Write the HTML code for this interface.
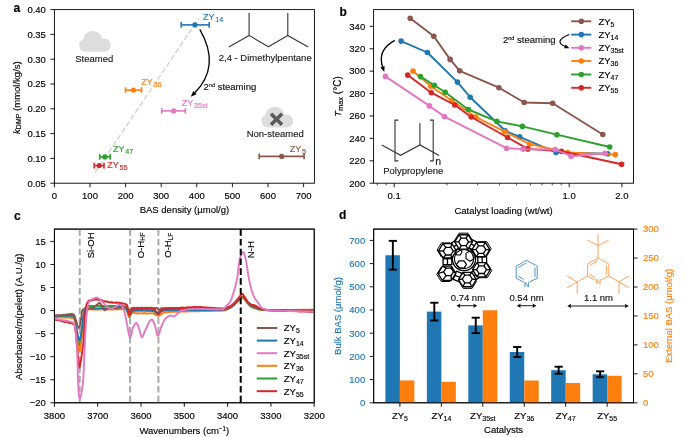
<!DOCTYPE html>
<html><head><meta charset="utf-8"><style>
html,body{margin:0;padding:0;background:#fff;width:685px;height:437px;overflow:hidden}
svg{display:block;will-change:transform}
text{font-family:"Liberation Sans",sans-serif;stroke-width:0.15px;paint-order:stroke}
</style></head><body>
<svg width="685" height="437" viewBox="0 0 685 437">
<rect width="685" height="437" fill="#fff"/>
<line x1="95.1" y1="172.5" x2="198.9" y2="18.3" stroke="#d0d0d0" stroke-width="1.3" stroke-dasharray="5.5,2.5"/>
<path d="M85.7,51.7 A6.5,6.5 0 0 1 83.19,39.21 A9.6,9.6 0 0 1 102.2,39.09 A6.5,6.5 0 1 1 104.4,51.7 Z" fill="#dddddd"/>
<path d="M267.9,127.5 A6.5,6.5 0 0 1 265.39,115.01 A9.6,9.6 0 0 1 284.4,114.89 A6.5,6.5 0 1 1 286.6,127.5 Z" fill="#dddddd"/>
<g stroke="#5a5a5a" stroke-width="3.6" stroke-linecap="butt"><line x1="271.0" y1="113.7" x2="282.0" y2="124.7"/><line x1="282.0" y1="113.7" x2="271.0" y2="124.7"/></g>
<text x="94.3" y="61.6" font-size="9.5" fill="#222" text-anchor="middle" stroke="#222">Steamed</text>
<text x="275.2" y="136.6" font-size="9.5" fill="#222" text-anchor="middle" stroke="#222">Non-steamed</text>
<polyline points="229.2,46.7 249.1,35.4 268.4,46.7 287.8,35.4 307.8,46.7" fill="none" stroke="#333" stroke-width="1.1" stroke-linejoin="round" stroke-linecap="round"/>
<line x1="249.1" y1="35.4" x2="249.1" y2="13" stroke="#333" stroke-width="1.1"/>
<line x1="287.8" y1="35.4" x2="287.8" y2="13" stroke="#333" stroke-width="1.1"/>
<text x="265.2" y="61.3" font-size="9.5" fill="#222" text-anchor="middle" stroke="#222">2,4 - Dimethylpentane</text>
<text x="203.6" y="90.3" font-size="9.5" fill="#111" stroke="#111">2<tspan font-size="5.5" dy="-3.2">nd</tspan><tspan dy="3.2"> steaming</tspan></text>
<path d="M199.8,29.3 Q221.4,66.6 194.12,93.43" fill="none" stroke="#000" stroke-width="1.3"/>
<path d="M190.7,96.8 L193.36,90.95 L196.59,94.23 Z" fill="#000"/>
<line x1="181.2" y1="24.9" x2="209.2" y2="24.9" stroke="#1f77b4" stroke-width="1.6"/>
<line x1="181.2" y1="22.1" x2="181.2" y2="27.7" stroke="#1f77b4" stroke-width="1.6"/>
<line x1="209.2" y1="22.1" x2="209.2" y2="27.7" stroke="#1f77b4" stroke-width="1.6"/>
<circle cx="194.9" cy="24.9" r="2.6" fill="#1f77b4"/>
<line x1="125.5" y1="90.1" x2="141.5" y2="90.1" stroke="#ff7f0e" stroke-width="1.6"/>
<line x1="125.5" y1="87.3" x2="125.5" y2="92.9" stroke="#ff7f0e" stroke-width="1.6"/>
<line x1="141.5" y1="87.3" x2="141.5" y2="92.9" stroke="#ff7f0e" stroke-width="1.6"/>
<circle cx="133.4" cy="90.1" r="2.6" fill="#ff7f0e"/>
<line x1="161.7" y1="110.9" x2="185.4" y2="110.9" stroke="#e377c2" stroke-width="1.6"/>
<line x1="161.7" y1="108.1" x2="161.7" y2="113.7" stroke="#e377c2" stroke-width="1.6"/>
<line x1="185.4" y1="108.1" x2="185.4" y2="113.7" stroke="#e377c2" stroke-width="1.6"/>
<circle cx="173.7" cy="110.9" r="2.6" fill="#e377c2"/>
<line x1="99.7" y1="156.9" x2="110.2" y2="156.9" stroke="#2ca02c" stroke-width="1.6"/>
<line x1="99.7" y1="154.1" x2="99.7" y2="159.7" stroke="#2ca02c" stroke-width="1.6"/>
<line x1="110.2" y1="154.1" x2="110.2" y2="159.7" stroke="#2ca02c" stroke-width="1.6"/>
<circle cx="104.9" cy="156.9" r="2.6" fill="#2ca02c"/>
<line x1="94.2" y1="165.6" x2="104" y2="165.6" stroke="#d62728" stroke-width="1.6"/>
<line x1="94.2" y1="162.8" x2="94.2" y2="168.4" stroke="#d62728" stroke-width="1.6"/>
<line x1="104" y1="162.8" x2="104" y2="168.4" stroke="#d62728" stroke-width="1.6"/>
<circle cx="99.2" cy="165.6" r="2.6" fill="#d62728"/>
<line x1="259.2" y1="156.4" x2="304.1" y2="156.4" stroke="#8c564b" stroke-width="1.6"/>
<line x1="259.2" y1="153.6" x2="259.2" y2="159.2" stroke="#8c564b" stroke-width="1.6"/>
<line x1="304.1" y1="153.6" x2="304.1" y2="159.2" stroke="#8c564b" stroke-width="1.6"/>
<circle cx="281.7" cy="156.4" r="2.6" fill="#8c564b"/>
<text x="203.1" y="19.7" font-size="9.0" fill="#1f77b4" stroke="#1f77b4">ZY<tspan font-size="7.2" dx="0.7" dy="2.0">14</tspan></text>
<text x="141.2" y="84.9" font-size="9.0" fill="#ff7f0e" stroke="#ff7f0e">ZY<tspan font-size="7.2" dx="0.7" dy="2.0">36</tspan></text>
<text x="181.8" y="106.3" font-size="9.0" fill="#e377c2" stroke="#e377c2">ZY<tspan font-size="7.2" dx="0.7" dy="2.0">35st</tspan></text>
<text x="113.1" y="151.8" font-size="9.0" fill="#2ca02c" stroke="#2ca02c">ZY<tspan font-size="7.2" dx="0.7" dy="2.0">47</tspan></text>
<text x="107.3" y="168" font-size="9.0" fill="#d62728" stroke="#d62728">ZY<tspan font-size="7.2" dx="0.7" dy="2.0">55</tspan></text>
<text x="289.7" y="152.1" font-size="9.0" fill="#8c564b" stroke="#8c564b">ZY<tspan font-size="7.2" dx="0.7" dy="2.0">5</tspan></text>
<rect x="54.4" y="9.6" width="260" height="173.6" fill="none" stroke="#000" stroke-width="0.9"/>
<line x1="54.4" y1="183.2" x2="54.4" y2="187.2" stroke="#000" stroke-width="0.9"/>
<text x="54.4" y="199.4" font-size="9.5" fill="#000" text-anchor="middle" stroke="#000">0</text>
<line x1="90" y1="183.2" x2="90" y2="187.2" stroke="#000" stroke-width="0.9"/>
<text x="90" y="199.4" font-size="9.5" fill="#000" text-anchor="middle" stroke="#000">100</text>
<line x1="125.6" y1="183.2" x2="125.6" y2="187.2" stroke="#000" stroke-width="0.9"/>
<text x="125.6" y="199.4" font-size="9.5" fill="#000" text-anchor="middle" stroke="#000">200</text>
<line x1="161.2" y1="183.2" x2="161.2" y2="187.2" stroke="#000" stroke-width="0.9"/>
<text x="161.2" y="199.4" font-size="9.5" fill="#000" text-anchor="middle" stroke="#000">300</text>
<line x1="196.8" y1="183.2" x2="196.8" y2="187.2" stroke="#000" stroke-width="0.9"/>
<text x="196.8" y="199.4" font-size="9.5" fill="#000" text-anchor="middle" stroke="#000">400</text>
<line x1="232.4" y1="183.2" x2="232.4" y2="187.2" stroke="#000" stroke-width="0.9"/>
<text x="232.4" y="199.4" font-size="9.5" fill="#000" text-anchor="middle" stroke="#000">500</text>
<line x1="268" y1="183.2" x2="268" y2="187.2" stroke="#000" stroke-width="0.9"/>
<text x="268" y="199.4" font-size="9.5" fill="#000" text-anchor="middle" stroke="#000">600</text>
<line x1="303.6" y1="183.2" x2="303.6" y2="187.2" stroke="#000" stroke-width="0.9"/>
<text x="303.6" y="199.4" font-size="9.5" fill="#000" text-anchor="middle" stroke="#000">700</text>
<line x1="50.4" y1="183.2" x2="54.4" y2="183.2" stroke="#000" stroke-width="0.9"/>
<text x="45.9" y="186.5" font-size="9.5" fill="#000" text-anchor="end" stroke="#000">0.05</text>
<line x1="50.4" y1="158.4" x2="54.4" y2="158.4" stroke="#000" stroke-width="0.9"/>
<text x="45.9" y="161.7" font-size="9.5" fill="#000" text-anchor="end" stroke="#000">0.10</text>
<line x1="50.4" y1="133.6" x2="54.4" y2="133.6" stroke="#000" stroke-width="0.9"/>
<text x="45.9" y="136.9" font-size="9.5" fill="#000" text-anchor="end" stroke="#000">0.15</text>
<line x1="50.4" y1="108.8" x2="54.4" y2="108.8" stroke="#000" stroke-width="0.9"/>
<text x="45.9" y="112.1" font-size="9.5" fill="#000" text-anchor="end" stroke="#000">0.20</text>
<line x1="50.4" y1="84" x2="54.4" y2="84" stroke="#000" stroke-width="0.9"/>
<text x="45.9" y="87.3" font-size="9.5" fill="#000" text-anchor="end" stroke="#000">0.25</text>
<line x1="50.4" y1="59.2" x2="54.4" y2="59.2" stroke="#000" stroke-width="0.9"/>
<text x="45.9" y="62.5" font-size="9.5" fill="#000" text-anchor="end" stroke="#000">0.30</text>
<line x1="50.4" y1="34.4" x2="54.4" y2="34.4" stroke="#000" stroke-width="0.9"/>
<text x="45.9" y="37.7" font-size="9.5" fill="#000" text-anchor="end" stroke="#000">0.35</text>
<line x1="50.4" y1="9.6" x2="54.4" y2="9.6" stroke="#000" stroke-width="0.9"/>
<text x="45.9" y="12.9" font-size="9.5" fill="#000" text-anchor="end" stroke="#000">0.40</text>
<text x="184.4" y="213.4" font-size="9.5" fill="#000" text-anchor="middle" stroke="#000">BAS density (µmol/g)</text>
<text x="0" y="0" transform="translate(19.6,97.6) rotate(-90)" font-size="9.5" fill="#000" text-anchor="middle" stroke="#000"><tspan font-style="italic">k</tspan><tspan font-size="7.0" dy="1.6">DMP</tspan><tspan dy="-1.6"> (mmol/kg/s)</tspan></text>
<text x="13.6" y="12" font-size="12" fill="#000" stroke="#000" font-weight="bold">a</text>
<polyline points="410.2,18.2 433.8,36.2 450.1,59.4 459.7,70.8 498.9,87.7 524.2,102.5 552.6,103.2 602.8,134.5" fill="none" stroke="#8c564b" stroke-width="1.9" stroke-linejoin="round" stroke-linecap="round"/>
<circle cx="410.2" cy="18.2" r="2.8" fill="#8c564b"/>
<circle cx="433.8" cy="36.2" r="2.8" fill="#8c564b"/>
<circle cx="450.1" cy="59.4" r="2.8" fill="#8c564b"/>
<circle cx="459.7" cy="70.8" r="2.8" fill="#8c564b"/>
<circle cx="498.9" cy="87.7" r="2.8" fill="#8c564b"/>
<circle cx="524.2" cy="102.5" r="2.8" fill="#8c564b"/>
<circle cx="552.6" cy="103.2" r="2.8" fill="#8c564b"/>
<circle cx="602.8" cy="134.5" r="2.8" fill="#8c564b"/>
<polyline points="401.1,41.1 427.4,52.5 457.4,82.1 470.2,97.2 505.2,130.8 519.7,136.9 556,152.4 607.8,153.7" fill="none" stroke="#1f77b4" stroke-width="1.9" stroke-linejoin="round" stroke-linecap="round"/>
<circle cx="401.1" cy="41.1" r="2.8" fill="#1f77b4"/>
<circle cx="427.4" cy="52.5" r="2.8" fill="#1f77b4"/>
<circle cx="457.4" cy="82.1" r="2.8" fill="#1f77b4"/>
<circle cx="470.2" cy="97.2" r="2.8" fill="#1f77b4"/>
<circle cx="505.2" cy="130.8" r="2.8" fill="#1f77b4"/>
<circle cx="519.7" cy="136.9" r="2.8" fill="#1f77b4"/>
<circle cx="556" cy="152.4" r="2.8" fill="#1f77b4"/>
<circle cx="607.8" cy="153.7" r="2.8" fill="#1f77b4"/>
<polyline points="413,71.1 430.9,86.2 452,100.7 475.8,117 504.8,131.7 529.6,144.1 567.8,152.5 615.3,154.6" fill="none" stroke="#ff7f0e" stroke-width="1.9" stroke-linejoin="round" stroke-linecap="round"/>
<circle cx="413" cy="71.1" r="2.8" fill="#ff7f0e"/>
<circle cx="430.9" cy="86.2" r="2.8" fill="#ff7f0e"/>
<circle cx="452" cy="100.7" r="2.8" fill="#ff7f0e"/>
<circle cx="475.8" cy="117" r="2.8" fill="#ff7f0e"/>
<circle cx="504.8" cy="131.7" r="2.8" fill="#ff7f0e"/>
<circle cx="529.6" cy="144.1" r="2.8" fill="#ff7f0e"/>
<circle cx="567.8" cy="152.5" r="2.8" fill="#ff7f0e"/>
<circle cx="615.3" cy="154.6" r="2.8" fill="#ff7f0e"/>
<polyline points="420.5,76.6 434.3,85.2 445.2,92.2 468.3,109.5 496.9,121.4 522.4,126.4 556.9,134.7 609.7,147" fill="none" stroke="#2ca02c" stroke-width="1.9" stroke-linejoin="round" stroke-linecap="round"/>
<circle cx="420.5" cy="76.6" r="2.8" fill="#2ca02c"/>
<circle cx="434.3" cy="85.2" r="2.8" fill="#2ca02c"/>
<circle cx="445.2" cy="92.2" r="2.8" fill="#2ca02c"/>
<circle cx="468.3" cy="109.5" r="2.8" fill="#2ca02c"/>
<circle cx="496.9" cy="121.4" r="2.8" fill="#2ca02c"/>
<circle cx="522.4" cy="126.4" r="2.8" fill="#2ca02c"/>
<circle cx="556.9" cy="134.7" r="2.8" fill="#2ca02c"/>
<circle cx="609.7" cy="147" r="2.8" fill="#2ca02c"/>
<polyline points="407.7,75.1 431.3,92.7 454.8,105 471.2,117 507.6,137.5 527.9,148.9 561.4,151.2 621.6,164.3" fill="none" stroke="#d62728" stroke-width="1.9" stroke-linejoin="round" stroke-linecap="round"/>
<circle cx="407.7" cy="75.1" r="2.8" fill="#d62728"/>
<circle cx="431.3" cy="92.7" r="2.8" fill="#d62728"/>
<circle cx="454.8" cy="105" r="2.8" fill="#d62728"/>
<circle cx="471.2" cy="117" r="2.8" fill="#d62728"/>
<circle cx="507.6" cy="137.5" r="2.8" fill="#d62728"/>
<circle cx="527.9" cy="148.9" r="2.8" fill="#d62728"/>
<circle cx="561.4" cy="151.2" r="2.8" fill="#d62728"/>
<circle cx="621.6" cy="164.3" r="2.8" fill="#d62728"/>
<polyline points="385.4,76.4 429.4,105.9 444.4,116.6 506.5,148.2 523,149.1 555.3,149.5 571.1,156.2 605,153.3" fill="none" stroke="#e377c2" stroke-width="1.9" stroke-linejoin="round" stroke-linecap="round"/>
<circle cx="385.4" cy="76.4" r="2.8" fill="#e377c2"/>
<circle cx="429.4" cy="105.9" r="2.8" fill="#e377c2"/>
<circle cx="444.4" cy="116.6" r="2.8" fill="#e377c2"/>
<circle cx="506.5" cy="148.2" r="2.8" fill="#e377c2"/>
<circle cx="523" cy="149.1" r="2.8" fill="#e377c2"/>
<circle cx="555.3" cy="149.5" r="2.8" fill="#e377c2"/>
<circle cx="571.1" cy="156.2" r="2.8" fill="#e377c2"/>
<circle cx="605" cy="153.3" r="2.8" fill="#e377c2"/>
<g fill="none" stroke="#333" stroke-width="1.1"><polyline points="381.7,144.9 400.6,155.3 419.9,144.9 439.1,155.6"/><line x1="419.9" y1="144.9" x2="419.9" y2="123.2"/><polyline points="398.3,120.1 395.0,120.1 395.0,160.9 398.3,160.9"/><polyline points="430.0,120.1 433.2,120.1 433.2,160.9 430.0,160.9"/></g>
<text x="435.3" y="165.4" font-size="10.5" fill="#222" stroke="#222">n</text>
<text x="413.3" y="174" font-size="9.5" fill="#222" text-anchor="middle" stroke="#222">Polypropylene</text>
<path d="M394.8,40.4 Q376.6,50 382.85,67.85" fill="none" stroke="#000" stroke-width="1.3"/>
<path d="M384.3,72 L380.41,67.54 L384.56,66.08 Z" fill="#000"/>
<line x1="571.2" y1="21.3" x2="591.3" y2="21.3" stroke="#8c564b" stroke-width="1.9"/>
<circle cx="581.3" cy="21.3" r="2.8" fill="#8c564b"/>
<text x="598.4" y="24.6" font-size="9.5" fill="#000" stroke="#000">ZY<tspan font-size="7.0" dy="2.1">5</tspan></text>
<line x1="571.2" y1="34.6" x2="591.3" y2="34.6" stroke="#1f77b4" stroke-width="1.9"/>
<circle cx="581.3" cy="34.6" r="2.8" fill="#1f77b4"/>
<text x="598.4" y="37.9" font-size="9.5" fill="#000" stroke="#000">ZY<tspan font-size="7.0" dy="2.1">14</tspan></text>
<line x1="571.2" y1="47.8" x2="591.3" y2="47.8" stroke="#e377c2" stroke-width="1.9"/>
<circle cx="581.3" cy="47.8" r="2.8" fill="#e377c2"/>
<text x="598.4" y="51.1" font-size="9.5" fill="#000" stroke="#000">ZY<tspan font-size="7.0" dy="2.1">35st</tspan></text>
<line x1="571.2" y1="61" x2="591.3" y2="61" stroke="#ff7f0e" stroke-width="1.9"/>
<circle cx="581.3" cy="61" r="2.8" fill="#ff7f0e"/>
<text x="598.4" y="64.3" font-size="9.5" fill="#000" stroke="#000">ZY<tspan font-size="7.0" dy="2.1">36</tspan></text>
<line x1="571.2" y1="74.5" x2="591.3" y2="74.5" stroke="#2ca02c" stroke-width="1.9"/>
<circle cx="581.3" cy="74.5" r="2.8" fill="#2ca02c"/>
<text x="598.4" y="77.8" font-size="9.5" fill="#000" stroke="#000">ZY<tspan font-size="7.0" dy="2.1">47</tspan></text>
<line x1="571.2" y1="87.8" x2="591.3" y2="87.8" stroke="#d62728" stroke-width="1.9"/>
<circle cx="581.3" cy="87.8" r="2.8" fill="#d62728"/>
<text x="598.4" y="91.1" font-size="9.5" fill="#000" stroke="#000">ZY<tspan font-size="7.0" dy="2.1">55</tspan></text>
<text x="503" y="43.2" font-size="9.5" fill="#111" stroke="#111">2<tspan font-size="5.5" dy="-3.2">nd</tspan><tspan dy="3.2"> steaming</tspan></text>
<path d="M569.3,34.5 Q552.5,41.35 565.8,46.79" fill="none" stroke="#000" stroke-width="1.2"/>
<path d="M569.5,48.3 L564.11,48.26 L565.63,44.56 Z" fill="#000"/>
<rect x="373.6" y="9.6" width="259.9" height="173.6" fill="none" stroke="#000" stroke-width="0.9"/>
<line x1="369.6" y1="183.2" x2="373.6" y2="183.2" stroke="#000" stroke-width="0.9"/>
<text x="365.2" y="186.5" font-size="9.5" fill="#000" text-anchor="end" stroke="#000">200</text>
<line x1="369.6" y1="160.79" x2="373.6" y2="160.79" stroke="#000" stroke-width="0.9"/>
<text x="365.2" y="164.09" font-size="9.5" fill="#000" text-anchor="end" stroke="#000">220</text>
<line x1="369.6" y1="138.37" x2="373.6" y2="138.37" stroke="#000" stroke-width="0.9"/>
<text x="365.2" y="141.67" font-size="9.5" fill="#000" text-anchor="end" stroke="#000">240</text>
<line x1="369.6" y1="115.96" x2="373.6" y2="115.96" stroke="#000" stroke-width="0.9"/>
<text x="365.2" y="119.26" font-size="9.5" fill="#000" text-anchor="end" stroke="#000">260</text>
<line x1="369.6" y1="93.54" x2="373.6" y2="93.54" stroke="#000" stroke-width="0.9"/>
<text x="365.2" y="96.84" font-size="9.5" fill="#000" text-anchor="end" stroke="#000">280</text>
<line x1="369.6" y1="71.13" x2="373.6" y2="71.13" stroke="#000" stroke-width="0.9"/>
<text x="365.2" y="74.43" font-size="9.5" fill="#000" text-anchor="end" stroke="#000">300</text>
<line x1="369.6" y1="48.72" x2="373.6" y2="48.72" stroke="#000" stroke-width="0.9"/>
<text x="365.2" y="52.02" font-size="9.5" fill="#000" text-anchor="end" stroke="#000">320</text>
<line x1="369.6" y1="26.3" x2="373.6" y2="26.3" stroke="#000" stroke-width="0.9"/>
<text x="365.2" y="29.6" font-size="9.5" fill="#000" text-anchor="end" stroke="#000">340</text>
<line x1="394.2" y1="183.2" x2="394.2" y2="187.2" stroke="#000" stroke-width="0.9"/>
<text x="394.2" y="199.4" font-size="9.5" fill="#000" text-anchor="middle" stroke="#000">0.1</text>
<line x1="569.2" y1="183.2" x2="569.2" y2="187.2" stroke="#000" stroke-width="0.9"/>
<text x="569.2" y="199.4" font-size="9.5" fill="#000" text-anchor="middle" stroke="#000">1.0</text>
<line x1="621.88" y1="183.2" x2="621.88" y2="187.2" stroke="#000" stroke-width="0.9"/>
<text x="621.88" y="199.4" font-size="9.5" fill="#000" text-anchor="middle" stroke="#000">2.0</text>
<line x1="377.24" y1="183.2" x2="377.24" y2="185.4" stroke="#000" stroke-width="0.7"/>
<line x1="386.19" y1="183.2" x2="386.19" y2="185.4" stroke="#000" stroke-width="0.7"/>
<line x1="446.88" y1="183.2" x2="446.88" y2="185.4" stroke="#000" stroke-width="0.7"/>
<line x1="477.7" y1="183.2" x2="477.7" y2="185.4" stroke="#000" stroke-width="0.7"/>
<line x1="499.56" y1="183.2" x2="499.56" y2="185.4" stroke="#000" stroke-width="0.7"/>
<line x1="516.52" y1="183.2" x2="516.52" y2="185.4" stroke="#000" stroke-width="0.7"/>
<line x1="530.38" y1="183.2" x2="530.38" y2="185.4" stroke="#000" stroke-width="0.7"/>
<line x1="542.09" y1="183.2" x2="542.09" y2="185.4" stroke="#000" stroke-width="0.7"/>
<line x1="552.24" y1="183.2" x2="552.24" y2="185.4" stroke="#000" stroke-width="0.7"/>
<line x1="561.19" y1="183.2" x2="561.19" y2="185.4" stroke="#000" stroke-width="0.7"/>
<text x="503.5" y="213.5" font-size="9.5" fill="#000" text-anchor="middle" stroke="#000">Catalyst loading (wt/wt)</text>
<text x="0" y="0" transform="translate(340.6,96.5) rotate(-90)" font-size="9.5" fill="#000" text-anchor="middle" stroke="#000"><tspan font-style="italic">T</tspan><tspan font-size="7.4" dy="2.0">max</tspan><tspan dy="-2.0" font-size="10"> (°C)</tspan></text>
<text x="339.4" y="15.9" font-size="12" fill="#000" stroke="#000" font-weight="bold">b</text>
<text x="13.9" y="219.5" font-size="12" fill="#000" stroke="#000" font-weight="bold">c</text>
<rect x="54.4" y="229.1" width="259.8" height="173.7" fill="none" stroke="#000" stroke-width="0.9"/>
<line x1="54.4" y1="402.8" x2="54.4" y2="406.8" stroke="#000" stroke-width="0.9"/>
<text x="54.4" y="419" font-size="9.5" fill="#000" text-anchor="middle" stroke="#000">3800</text>
<line x1="97.7" y1="402.8" x2="97.7" y2="406.8" stroke="#000" stroke-width="0.9"/>
<text x="97.7" y="419" font-size="9.5" fill="#000" text-anchor="middle" stroke="#000">3700</text>
<line x1="141" y1="402.8" x2="141" y2="406.8" stroke="#000" stroke-width="0.9"/>
<text x="141" y="419" font-size="9.5" fill="#000" text-anchor="middle" stroke="#000">3600</text>
<line x1="184.3" y1="402.8" x2="184.3" y2="406.8" stroke="#000" stroke-width="0.9"/>
<text x="184.3" y="419" font-size="9.5" fill="#000" text-anchor="middle" stroke="#000">3500</text>
<line x1="227.6" y1="402.8" x2="227.6" y2="406.8" stroke="#000" stroke-width="0.9"/>
<text x="227.6" y="419" font-size="9.5" fill="#000" text-anchor="middle" stroke="#000">3400</text>
<line x1="270.9" y1="402.8" x2="270.9" y2="406.8" stroke="#000" stroke-width="0.9"/>
<text x="270.9" y="419" font-size="9.5" fill="#000" text-anchor="middle" stroke="#000">3300</text>
<line x1="314.2" y1="402.8" x2="314.2" y2="406.8" stroke="#000" stroke-width="0.9"/>
<text x="314.2" y="419" font-size="9.5" fill="#000" text-anchor="middle" stroke="#000">3200</text>
<line x1="50.4" y1="402.8" x2="54.4" y2="402.8" stroke="#000" stroke-width="0.9"/>
<text x="45.9" y="406.1" font-size="9.5" fill="#000" text-anchor="end" stroke="#000">−20</text>
<line x1="50.4" y1="379.75" x2="54.4" y2="379.75" stroke="#000" stroke-width="0.9"/>
<text x="45.9" y="383.05" font-size="9.5" fill="#000" text-anchor="end" stroke="#000">−15</text>
<line x1="50.4" y1="356.69" x2="54.4" y2="356.69" stroke="#000" stroke-width="0.9"/>
<text x="45.9" y="359.99" font-size="9.5" fill="#000" text-anchor="end" stroke="#000">−10</text>
<line x1="50.4" y1="333.63" x2="54.4" y2="333.63" stroke="#000" stroke-width="0.9"/>
<text x="45.9" y="336.94" font-size="9.5" fill="#000" text-anchor="end" stroke="#000">−5</text>
<line x1="50.4" y1="310.58" x2="54.4" y2="310.58" stroke="#000" stroke-width="0.9"/>
<text x="45.9" y="313.88" font-size="9.5" fill="#000" text-anchor="end" stroke="#000">0</text>
<line x1="50.4" y1="287.53" x2="54.4" y2="287.53" stroke="#000" stroke-width="0.9"/>
<text x="45.9" y="290.83" font-size="9.5" fill="#000" text-anchor="end" stroke="#000">5</text>
<line x1="50.4" y1="264.47" x2="54.4" y2="264.47" stroke="#000" stroke-width="0.9"/>
<text x="45.9" y="267.77" font-size="9.5" fill="#000" text-anchor="end" stroke="#000">10</text>
<line x1="50.4" y1="241.42" x2="54.4" y2="241.42" stroke="#000" stroke-width="0.9"/>
<text x="45.9" y="244.72" font-size="9.5" fill="#000" text-anchor="end" stroke="#000">15</text>
<text x="184.3" y="434.4" font-size="9.5" fill="#000" text-anchor="middle" stroke="#000">Wavenumbers (cm<tspan font-size="6.3" dy="-3.2">−1</tspan><tspan dy="3.2">)</tspan></text>
<text x="0" y="0" transform="translate(21.6,316.8) rotate(-90)" font-size="9.5" fill="#000" text-anchor="middle" stroke="#000">Absorbance/<tspan font-style="italic">m</tspan>(pelett) (A.U./g)</text>
<text x="339.1" y="219.4" font-size="12" fill="#000" stroke="#000" font-weight="bold">d</text>
<rect x="373.7" y="229.1" width="259.8" height="173.7" fill="none" stroke="#000" stroke-width="0.9"/>
<line x1="79.73" y1="229.1" x2="79.73" y2="402.8" stroke="#a9a9a9" stroke-width="2.0" stroke-dasharray="6.6,3.2"/>
<line x1="130.09" y1="229.1" x2="130.09" y2="402.8" stroke="#a9a9a9" stroke-width="2.0" stroke-dasharray="6.6,3.2"/>
<line x1="158.41" y1="229.1" x2="158.41" y2="402.8" stroke="#a9a9a9" stroke-width="2.0" stroke-dasharray="6.6,3.2"/>
<clipPath id="cc"><rect x="54.4" y="229.1" width="259.8" height="173.70000000000002"/></clipPath>
<g clip-path="url(#cc)">
<polyline points="54.4,316.5 54.9,316.6 55.4,316.56 55.9,316.64 56.4,316.66 56.9,316.5 57.4,316.5 57.9,316.76 58.4,316.6 58.9,316.6 59.4,316.84 59.9,316.7 60.4,316.82 60.9,316.73 61.4,316.79 61.9,316.66 62.4,316.82 62.9,316.91 63.4,316.82 63.9,316.91 64.4,316.9 64.9,316.74 65.4,316.96 65.9,316.93 66.4,316.86 66.9,316.8 67.4,317.07 67.9,316.98 68.4,317.08 68.9,317.16 69.4,317.14 69.9,317.24 70.4,317.13 70.9,317.3 71.4,317.25 71.9,317.46 72.4,317.51 72.9,317.36 73.4,317.57 73.9,318.17 74.4,319.31 74.9,320.36 75.4,322.21 75.9,326.18 76.4,330.73 76.9,334.24 77.4,337.67 77.9,340.63 78.4,342.61 78.9,344.33 79.4,345.18 79.9,344.7 80.4,342.69 80.9,340.26 81.4,336.83 81.9,332.44 82.4,328.11 82.9,323.4 83.4,318.14 83.9,313.92 84.4,310.75 84.9,308.25 85.4,307.65 85.9,307.13 86.4,306.7 86.9,306.37 87.4,306.43 87.9,306.37 88.4,306.06 88.9,306.25 89.4,306.11 89.9,306.01 90.4,306.03 90.9,306.16 91.4,306.17 91.9,305.91 92.4,306.07 92.9,305.88 93.4,306.07 93.9,305.95 94.4,306.11 94.9,306.13 95.4,305.98 95.9,306.12 96.4,305.92 96.9,305.84 97.4,306 97.9,305.83 98.4,305.88 98.9,305.94 99.4,306 99.9,305.87 100.4,305.83 100.9,306.08 101.4,305.91 101.9,306.11 102.4,306.09 102.9,305.93 103.4,305.96 103.9,305.98 104.4,306.01 104.9,306 105.4,305.99 105.9,306.01 106.4,306.1 106.9,305.97 107.4,305.95 107.9,306.04 108.4,305.89 108.9,305.91 109.4,306.11 109.9,305.98 110.4,305.98 110.9,305.82 111.4,305.94 111.9,305.99 112.4,305.83 112.9,306 113.4,306.01 113.9,305.84 114.4,306.01 114.9,305.96 115.4,306.02 115.9,305.92 116.4,306.03 116.9,306.04 117.4,305.83 117.9,305.84 118.4,306.02 118.9,306.11 119.4,305.89 119.9,305.96 120.4,306.02 120.9,305.97 121.4,306.03 121.9,306.07 122.4,306.16 122.9,306.31 123.4,306.32 123.9,306.45 124.4,306.69 124.9,306.6 125.4,306.91 125.9,307.51 126.4,308.63 126.9,310.29 127.4,312.36 127.9,314.04 128.4,315.59 128.9,316.72 129.4,317.08 129.9,316.28 130.4,315.07 130.9,313.52 131.4,312.16 131.9,310.93 132.4,310.69 132.9,310.48 133.4,310.53 133.9,310.63 134.4,310.7 134.9,310.57 135.4,310.5 135.9,310.47 136.4,310.59 136.9,310.49 137.4,310.67 137.9,310.68 138.4,310.49 138.9,310.51 139.4,310.67 139.9,310.62 140.4,310.67 140.9,310.53 141.4,310.47 141.9,310.52 142.4,310.67 142.9,310.51 143.4,310.53 143.9,310.56 144.4,310.56 144.9,310.55 145.4,310.71 145.9,310.48 146.4,310.43 146.9,310.71 147.4,310.69 147.9,310.73 148.4,310.56 148.9,310.72 149.4,310.71 149.9,310.5 150.4,310.7 150.9,310.81 151.4,310.87 151.9,310.97 152.4,311.06 152.9,311.26 153.4,311.42 153.9,311.57 154.4,311.92 154.9,312.03 155.4,312.37 155.9,312.31 156.4,312.72 156.9,312.78 157.4,312.94 157.9,312.99 158.4,313 158.9,312.85 159.4,312.54 159.9,312.56 160.4,312.14 160.9,311.9 161.4,311.7 161.9,311.34 162.4,311.01 162.9,310.88 163.4,310.53 163.9,310.26 164.4,310.1 164.9,310.22 165.4,310.08 165.9,310.15 166.4,310 166.9,309.93 167.4,310 167.9,310.07 168.4,309.85 168.9,310.02 169.4,310.04 169.9,309.99 170.4,309.97 170.9,309.71 171.4,309.88 171.9,309.94 172.4,309.68 172.9,309.73 173.4,309.72 173.9,309.78 174.4,309.74 174.9,309.74 175.4,309.83 175.9,309.58 176.4,309.59 176.9,309.6 177.4,309.59 177.9,309.57 178.4,309.84 178.9,309.79 179.4,309.56 179.9,309.68 180.4,309.62 180.9,309.61 181.4,309.62 181.9,309.71 182.4,309.69 182.9,309.62 183.4,309.57 183.9,309.61 184.4,309.54 184.9,309.67 185.4,309.72 185.9,309.62 186.4,309.53 186.9,309.56 187.4,309.62 187.9,309.69 188.4,309.74 188.9,309.62 189.4,309.75 189.9,309.69 190.4,309.64 190.9,309.62 191.4,309.66 191.9,309.72 192.4,309.63 192.9,309.72 193.4,309.65 193.9,309.58 194.4,309.67 194.9,309.72 195.4,309.53 195.9,309.64 196.4,309.64 196.9,309.77 197.4,309.79 197.9,309.62 198.4,309.78 198.9,309.75 199.4,309.59 199.9,309.65 200.4,309.61 200.9,309.7 201.4,309.68 201.9,309.71 202.4,309.7 202.9,309.68 203.4,309.69 203.9,309.67 204.4,309.6 204.9,309.67 205.4,309.59 205.9,309.61 206.4,309.69 206.9,309.6 207.4,309.6 207.9,309.6 208.4,309.71 208.9,309.61 209.4,309.59 209.9,309.7 210.4,309.61 210.9,309.7 211.4,309.68 211.9,309.7 212.4,309.72 212.9,309.67 213.4,309.7 213.9,309.6 214.4,309.69 214.9,309.66 215.4,309.69 215.9,309.6 216.4,309.69 216.9,309.72 217.4,309.6 217.9,309.63 218.4,309.67 218.9,309.7 219.4,309.62 219.9,309.61 220.4,309.62 220.9,309.67 221.4,309.69 221.9,309.64 222.4,309.64 222.9,309.64 223.4,309.64 223.9,309.62 224.4,309.52 224.9,309.5 225.4,309.46 225.9,309.25 226.4,309.15 226.9,308.91 227.4,308.8 227.9,308.62 228.4,308.41 228.9,308.18 229.4,307.97 229.9,307.77 230.4,307.55 230.9,307.15 231.4,306.79 231.9,306.5 232.4,306.12 232.9,305.64 233.4,305.19 233.9,304.79 234.4,304.27 234.9,303.79 235.4,303.25 235.9,302.75 236.4,302.15 236.9,301.57 237.4,301.08 237.9,300.57 238.4,299.97 238.9,299.52 239.4,298.95 239.9,298.49 240.4,297.97 240.9,297.52 241.4,297.2 241.9,296.93 242.4,296.79 242.9,296.75 243.4,297.12 243.9,297.86 244.4,298.7 244.9,299.52 245.4,300.11 245.9,300.92 246.4,301.56 246.9,302.27 247.4,302.93 247.9,303.61 248.4,304.19 248.9,304.69 249.4,305.2 249.9,305.73 250.4,306.21 250.9,306.54 251.4,306.91 251.9,307.21 252.4,307.38 252.9,307.55 253.4,307.74 253.9,307.98 254.4,308.14 254.9,308.34 255.4,308.49 255.9,308.57 256.4,308.73 256.9,308.9 257.4,309.04 257.9,309.25 258.4,309.4 258.9,309.52 259.4,309.53 259.9,309.69 260.4,309.67 260.9,309.74 261.4,309.83 261.9,309.79 262.4,309.84 262.9,309.98 263.4,309.95 263.9,310 264.4,310.07 264.9,310.12 265.4,310.07 265.9,310.14 266.4,310.18 266.9,310.22 267.4,310.21 267.9,310.28 268.4,310.35 268.9,310.29 269.4,310.33 269.9,310.28 270.4,310.31 270.9,310.37 271.4,310.3 271.9,310.41 272.4,310.42 272.9,310.32 273.4,310.44 273.9,310.37 274.4,310.42 274.9,310.43 275.4,310.37 275.9,310.43 276.4,310.43 276.9,310.45 277.4,310.38 277.9,310.45 278.4,310.49 278.9,310.45 279.4,310.44 279.9,310.38 280.4,310.44 280.9,310.42 281.4,310.47 281.9,310.47 282.4,310.46 282.9,310.41 283.4,310.48 283.9,310.48 284.4,310.42 284.9,310.52 285.4,310.49 285.9,310.42 286.4,310.53 286.9,310.43 287.4,310.46 287.9,310.51 288.4,310.5 288.9,310.49 289.4,310.51 289.9,310.48 290.4,310.47 290.9,310.45 291.4,310.44 291.9,310.53 292.4,310.53 292.9,310.51 293.4,310.54 293.9,310.49 294.4,310.47 294.9,310.49 295.4,310.56 295.9,310.45 296.4,310.51 296.9,310.48 297.4,310.55 297.9,310.5 298.4,310.5 298.9,310.51 299.4,310.53 299.9,310.56 300.4,310.51 300.9,310.57 301.4,310.48 301.9,310.5 302.4,310.48 302.9,310.48 303.4,310.57 303.9,310.57 304.4,310.5 304.9,310.5 305.4,310.53 305.9,310.58 306.4,310.59 306.9,310.58 307.4,310.56 307.9,310.5 308.4,310.54 308.9,310.51 309.4,310.56 309.9,310.57 310.4,310.52 310.9,310.53 311.4,310.6 311.9,310.51 312.4,310.61 312.9,310.63 313.4,310.64 313.9,310.56" fill="none" stroke="#2ca02c" stroke-width="1.9" stroke-linejoin="round" stroke-linecap="round"/>
<polyline points="54.4,316.96 54.9,316.94 55.4,317.06 55.9,317.01 56.4,317.01 56.9,317.14 57.4,317.32 57.9,317.31 58.4,317.33 58.9,317.2 59.4,317.32 59.9,317.27 60.4,317.26 60.9,317.27 61.4,317.33 61.9,317.57 62.4,317.56 62.9,317.58 63.4,317.6 63.9,317.44 64.4,317.49 64.9,317.61 65.4,317.65 65.9,317.7 66.4,317.72 66.9,317.49 67.4,317.66 67.9,317.69 68.4,317.66 68.9,317.58 69.4,317.69 69.9,317.59 70.4,317.87 70.9,317.88 71.4,317.82 71.9,317.79 72.4,318.01 72.9,317.97 73.4,318.28 73.9,319 74.4,320.07 74.9,321.56 75.4,323.71 75.9,328.03 76.4,332.84 76.9,337.02 77.4,341.29 77.9,344.66 78.4,347.31 78.9,349.8 79.4,351.03 79.9,350.36 80.4,347.7 80.9,344.6 81.4,341.23 81.9,336.79 82.4,332.52 82.9,328.37 83.4,324.39 83.9,319.59 84.4,312.43 84.9,310.06 85.4,309.67 85.9,309.57 86.4,309.58 86.9,309.31 87.4,309.3 87.9,309.35 88.4,309.51 88.9,309.46 89.4,309.35 89.9,309.38 90.4,309.33 90.9,309.41 91.4,309.29 91.9,309.49 92.4,309.55 92.9,309.56 93.4,309.5 93.9,309.57 94.4,309.28 94.9,309.36 95.4,309.57 95.9,309.51 96.4,309.4 96.9,309.56 97.4,309.46 97.9,309.52 98.4,309.37 98.9,309.33 99.4,309.41 99.9,309.32 100.4,309.39 100.9,309.57 101.4,309.38 101.9,309.28 102.4,309.29 102.9,309.33 103.4,309.51 103.9,309.39 104.4,309.36 104.9,309.31 105.4,309.57 105.9,309.4 106.4,309.34 106.9,309.3 107.4,309.29 107.9,309.33 108.4,309.48 108.9,309.32 109.4,309.29 109.9,309.42 110.4,309.35 110.9,309.58 111.4,309.31 111.9,309.44 112.4,309.51 112.9,309.4 113.4,309.57 113.9,309.42 114.4,309.35 114.9,309.4 115.4,309.29 115.9,309.4 116.4,309.34 116.9,309.53 117.4,309.5 117.9,309.39 118.4,309.24 118.9,309.29 119.4,309.27 119.9,309.25 120.4,309.24 120.9,309.42 121.4,309.18 121.9,309.14 122.4,309.39 122.9,309.27 123.4,309.38 123.9,309.19 124.4,309.33 124.9,309.25 125.4,309.29 125.9,309.27 126.4,309.23 126.9,309.85 127.4,311.32 127.9,313.26 128.4,314.92 128.9,316.12 129.4,316.28 129.9,316 130.4,315.28 130.9,314.28 131.4,313.42 131.9,312.66 132.4,312.47 132.9,312.52 133.4,312.49 133.9,312.82 134.4,312.99 134.9,312.88 135.4,313.3 135.9,313.41 136.4,313.39 136.9,313.21 137.4,313.47 137.9,313.23 138.4,313.49 138.9,313.4 139.4,313.21 139.9,313.25 140.4,313.39 140.9,313.37 141.4,313.42 141.9,313.47 142.4,313.26 142.9,313.2 143.4,313.47 143.9,313.2 144.4,313.46 144.9,313.23 145.4,313.44 145.9,313.43 146.4,313.46 146.9,313.36 147.4,313.46 147.9,313.26 148.4,313.4 148.9,313.3 149.4,313.46 149.9,313.43 150.4,313.34 150.9,313.35 151.4,313.2 151.9,313.21 152.4,313.43 152.9,313.51 153.4,313.8 153.9,313.93 154.4,314.04 154.9,314.37 155.4,314.75 155.9,314.94 156.4,315.02 156.9,315.47 157.4,315.62 157.9,315.5 158.4,315.66 158.9,315.55 159.4,315.52 159.9,315.14 160.4,314.84 160.9,314.59 161.4,314.38 161.9,313.76 162.4,313.41 162.9,313.23 163.4,313.02 163.9,312.67 164.4,312.48 164.9,312.52 165.4,312.45 165.9,312.19 166.4,312.39 166.9,312.14 167.4,312.13 167.9,312.26 168.4,312.1 168.9,312.17 169.4,311.95 169.9,312.13 170.4,311.89 170.9,311.86 171.4,311.93 171.9,311.86 172.4,311.9 172.9,311.98 173.4,311.9 173.9,311.67 174.4,311.74 174.9,311.79 175.4,311.76 175.9,311.81 176.4,311.72 176.9,311.58 177.4,311.62 177.9,311.78 178.4,311.62 178.9,311.73 179.4,311.78 179.9,311.66 180.4,311.66 180.9,311.63 181.4,311.53 181.9,311.69 182.4,311.55 182.9,311.67 183.4,311.47 183.9,311.62 184.4,311.59 184.9,311.52 185.4,311.45 185.9,311.35 186.4,311.53 186.9,311.39 187.4,311.47 187.9,311.3 188.4,311.27 188.9,311.28 189.4,311.46 189.9,311.26 190.4,311.47 190.9,311.3 191.4,311.35 191.9,311.27 192.4,311.34 192.9,311.18 193.4,311.26 193.9,311.41 194.4,311.17 194.9,311.31 195.4,311.2 195.9,311.18 196.4,311.09 196.9,311.08 197.4,311.35 197.9,311.3 198.4,311.29 198.9,311.28 199.4,311.31 199.9,311.07 200.4,311.17 200.9,311.15 201.4,311.15 201.9,311.19 202.4,311.15 202.9,311.17 203.4,311.05 203.9,311.11 204.4,311.1 204.9,311.1 205.4,311.07 205.9,311.09 206.4,311 206.9,311.08 207.4,311 207.9,311.01 208.4,311.04 208.9,311.01 209.4,310.95 209.9,310.93 210.4,310.93 210.9,310.96 211.4,311.01 211.9,310.98 212.4,310.91 212.9,310.9 213.4,310.95 213.9,310.87 214.4,310.87 214.9,310.81 215.4,310.82 215.9,310.86 216.4,310.87 216.9,310.85 217.4,310.8 217.9,310.86 218.4,310.81 218.9,310.73 219.4,310.7 219.9,310.8 220.4,310.78 220.9,310.75 221.4,310.69 221.9,310.63 222.4,310.57 222.9,310.57 223.4,310.53 223.9,310.57 224.4,310.48 224.9,310.35 225.4,310.13 225.9,309.98 226.4,309.8 226.9,309.69 227.4,309.36 227.9,309.22 228.4,308.97 228.9,308.71 229.4,308.52 229.9,308.17 230.4,307.93 230.9,307.56 231.4,307.2 231.9,306.81 232.4,306.45 232.9,306.01 233.4,305.57 233.9,305.28 234.4,304.76 234.9,304.39 235.4,303.89 235.9,303.41 236.4,302.9 236.9,302.45 237.4,301.94 237.9,301.43 238.4,300.93 238.9,300.46 239.4,299.94 239.9,299.39 240.4,298.9 240.9,298.43 241.4,298.2 241.9,297.91 242.4,297.66 242.9,297.64 243.4,298.07 243.9,298.58 244.4,299.31 244.9,299.98 245.4,300.54 245.9,301.01 246.4,301.57 246.9,302.11 247.4,302.59 247.9,303.23 248.4,303.61 248.9,304.25 249.4,304.65 249.9,305.16 250.4,305.72 250.9,306.13 251.4,306.39 251.9,306.69 252.4,306.91 252.9,307.15 253.4,307.26 253.9,307.52 254.4,307.72 254.9,307.85 255.4,308.06 255.9,308.25 256.4,308.36 256.9,308.61 257.4,308.79 257.9,308.93 258.4,309.02 258.9,309.22 259.4,309.38 259.9,309.38 260.4,309.48 260.9,309.57 261.4,309.59 261.9,309.56 262.4,309.69 262.9,309.69 263.4,309.81 263.9,309.83 264.4,309.82 264.9,309.94 265.4,309.94 265.9,309.93 266.4,310.03 266.9,310.07 267.4,310.09 267.9,310.11 268.4,310.1 268.9,310.12 269.4,310.12 269.9,310.12 270.4,310.18 270.9,310.1 271.4,310.06 271.9,310.15 272.4,310.12 272.9,310.12 273.4,310.13 273.9,310.08 274.4,310.07 274.9,310.05 275.4,310.15 275.9,310.16 276.4,310.13 276.9,310.05 277.4,310.16 277.9,310.14 278.4,310.09 278.9,310.02 279.4,310.13 279.9,310.1 280.4,310.1 280.9,310.01 281.4,310.1 281.9,310 282.4,310.06 282.9,310.01 283.4,310.03 283.9,310.1 284.4,310.08 284.9,310.08 285.4,310.01 285.9,310.01 286.4,310.04 286.9,309.95 287.4,310 287.9,310.07 288.4,310.03 288.9,310.04 289.4,309.96 289.9,310.01 290.4,310.01 290.9,310 291.4,309.95 291.9,309.91 292.4,309.88 292.9,309.99 293.4,309.99 293.9,309.9 294.4,309.96 294.9,309.9 295.4,309.92 295.9,309.95 296.4,309.87 296.9,309.9 297.4,309.85 297.9,309.87 298.4,309.8 298.9,309.83 299.4,309.82 299.9,309.9 300.4,309.79 300.9,309.86 301.4,309.77 301.9,309.88 302.4,309.76 302.9,309.75 303.4,309.76 303.9,309.85 304.4,309.8 304.9,309.83 305.4,309.77 305.9,309.71 306.4,309.73 306.9,309.74 307.4,309.81 307.9,309.69 308.4,309.69 308.9,309.77 309.4,309.66 309.9,309.77 310.4,309.67 310.9,309.7 311.4,309.71 311.9,309.74 312.4,309.62 312.9,309.72 313.4,309.62 313.9,309.69" fill="none" stroke="#ff7f0e" stroke-width="1.9" stroke-linejoin="round" stroke-linecap="round"/>
<polyline points="54.4,315.69 54.9,315.72 55.4,315.74 55.9,315.78 56.4,315.72 56.9,315.78 57.4,315.51 57.9,315.64 58.4,315.79 58.9,315.7 59.4,315.77 59.9,315.54 60.4,315.64 60.9,315.58 61.4,315.67 61.9,315.67 62.4,315.51 62.9,315.57 63.4,315.59 63.9,315.78 64.4,315.73 64.9,315.55 65.4,315.74 65.9,315.54 66.4,315.69 66.9,315.54 67.4,315.5 67.9,315.76 68.4,315.56 68.9,315.57 69.4,315.8 69.9,315.76 70.4,315.59 70.9,315.79 71.4,315.66 71.9,315.71 72.4,315.56 72.9,315.78 73.4,315.83 73.9,316.41 74.4,317.2 74.9,318.11 75.4,319.73 75.9,323.39 76.4,327.45 76.9,330.54 77.4,333.54 77.9,336.14 78.4,337.81 78.9,339.63 79.4,340.46 79.9,339.9 80.4,338.07 80.9,335.48 81.4,331.92 81.9,327.55 82.4,323.28 82.9,319.29 83.4,315.9 83.9,312.98 84.4,311.31 84.9,310.03 85.4,309.4 85.9,309.45 86.4,309.18 86.9,309.14 87.4,308.9 87.9,308.86 88.4,308.85 88.9,309.04 89.4,308.78 89.9,308.91 90.4,308.93 90.9,308.91 91.4,308.7 91.9,308.68 92.4,308.71 92.9,308.76 93.4,308.54 93.9,308.72 94.4,308.71 94.9,308.71 95.4,308.45 95.9,308.71 96.4,308.43 96.9,308.49 97.4,308.55 97.9,308.62 98.4,308.43 98.9,308.59 99.4,308.46 99.9,308.37 100.4,308.36 100.9,308.3 101.4,308.26 101.9,308.27 102.4,308.42 102.9,308.5 103.4,308.24 103.9,308.2 104.4,308.47 104.9,308.32 105.4,308.28 105.9,308.22 106.4,308.31 106.9,308.37 107.4,308.25 107.9,308.23 108.4,308.11 108.9,308.35 109.4,308.07 109.9,308.2 110.4,308.29 110.9,308.06 111.4,308.22 111.9,308.27 112.4,308.15 112.9,308.17 113.4,307.95 113.9,308.02 114.4,307.9 114.9,308.08 115.4,307.89 115.9,307.9 116.4,308.03 116.9,307.94 117.4,307.92 117.9,307.53 118.4,307.18 118.9,306.8 119.4,306.25 119.9,305.75 120.4,305.45 120.9,305.19 121.4,305.27 121.9,305.59 122.4,305.83 122.9,306.06 123.4,306.4 123.9,306.76 124.4,307.11 124.9,307.62 125.4,308.35 125.9,309.06 126.4,309.65 126.9,310.53 127.4,311.25 127.9,311.89 128.4,312.52 128.9,313.25 129.4,313.76 129.9,314.26 130.4,314.13 130.9,313.57 131.4,312.68 131.9,311.63 132.4,310.74 132.9,310.71 133.4,310.59 133.9,310.54 134.4,310.34 134.9,310.48 135.4,310.37 135.9,310.48 136.4,310.4 136.9,310.49 137.4,310.43 137.9,310.46 138.4,310.32 138.9,310.4 139.4,310.43 139.9,310.45 140.4,310.31 140.9,310.45 141.4,310.46 141.9,310.41 142.4,310.49 142.9,310.49 143.4,310.36 143.9,310.37 144.4,310.26 144.9,310.47 145.4,310.5 145.9,310.37 146.4,310.44 146.9,310.45 147.4,310.46 147.9,310.3 148.4,310.5 148.9,310.45 149.4,310.48 149.9,310.42 150.4,310.49 150.9,310.55 151.4,310.53 151.9,310.57 152.4,310.38 152.9,310.43 153.4,310.54 153.9,310.62 154.4,310.63 154.9,311.21 155.4,311.81 155.9,312.32 156.4,313.09 156.9,313.51 157.4,313.67 157.9,313.51 158.4,313.02 158.9,312.23 159.4,311.46 159.9,310.77 160.4,310.58 160.9,310.52 161.4,310.57 161.9,310.54 162.4,310.41 162.9,310.59 163.4,310.3 163.9,310.4 164.4,310.34 164.9,310.36 165.4,310.26 165.9,310.46 166.4,310.3 166.9,310.19 167.4,310.34 167.9,310.17 168.4,310.3 168.9,310.22 169.4,310.28 169.9,310.38 170.4,310.33 170.9,310.2 171.4,310.31 171.9,310.25 172.4,310.16 172.9,310.08 173.4,310.21 173.9,310.2 174.4,310.31 174.9,310.3 175.4,310.19 175.9,310.11 176.4,310.27 176.9,309.99 177.4,310.02 177.9,310.16 178.4,310.17 178.9,310.02 179.4,310.17 179.9,310.24 180.4,310.09 180.9,310.1 181.4,310.04 181.9,310.06 182.4,310.26 182.9,310.08 183.4,310.26 183.9,310.24 184.4,310.15 184.9,310.05 185.4,310.26 185.9,310.12 186.4,310.09 186.9,310.06 187.4,310.26 187.9,310.12 188.4,310.05 188.9,310.11 189.4,310.01 189.9,310.16 190.4,310.1 190.9,310.06 191.4,310.2 191.9,310.22 192.4,309.97 192.9,310.13 193.4,310.05 193.9,310.25 194.4,310.2 194.9,310.04 195.4,310.05 195.9,310.02 196.4,310.27 196.9,310.06 197.4,310.15 197.9,310.11 198.4,310.16 198.9,310.15 199.4,310.19 199.9,310 200.4,310.15 200.9,310.09 201.4,310.12 201.9,310.1 202.4,310.09 202.9,310.12 203.4,310.11 203.9,310.1 204.4,310.15 204.9,310.13 205.4,310.06 205.9,310.09 206.4,310.11 206.9,310.17 207.4,310.17 207.9,310.12 208.4,310.04 208.9,310.14 209.4,310.09 209.9,310.11 210.4,310.12 210.9,310.1 211.4,310.07 211.9,310.12 212.4,310.04 212.9,310.03 213.4,310.09 213.9,309.99 214.4,309.99 214.9,310.05 215.4,309.93 215.9,310.02 216.4,309.98 216.9,309.93 217.4,309.89 217.9,309.94 218.4,309.94 218.9,309.82 219.4,309.84 219.9,309.83 220.4,309.8 220.9,309.76 221.4,309.71 221.9,309.74 222.4,309.75 222.9,309.62 223.4,309.61 223.9,309.65 224.4,309.58 224.9,309.47 225.4,309.27 225.9,309.24 226.4,309.13 226.9,308.98 227.4,308.77 227.9,308.5 228.4,308.42 228.9,308.13 229.4,307.99 229.9,307.82 230.4,307.53 230.9,307.15 231.4,306.82 231.9,306.52 232.4,306.01 232.9,305.65 233.4,305.19 233.9,304.71 234.4,304.33 234.9,303.76 235.4,303.24 235.9,302.72 236.4,302.12 236.9,301.55 237.4,301.06 237.9,300.54 238.4,300.05 238.9,299.44 239.4,298.95 239.9,298.42 240.4,297.98 240.9,297.55 241.4,297.3 241.9,296.97 242.4,296.74 242.9,296.79 243.4,297.04 243.9,297.7 244.4,298.38 244.9,299.09 245.4,299.62 245.9,300.24 246.4,300.82 246.9,301.48 247.4,302.06 247.9,302.71 248.4,303.22 248.9,303.69 249.4,304.23 249.9,304.75 250.4,305.26 250.9,305.59 251.4,305.99 251.9,306.24 252.4,306.39 252.9,306.67 253.4,306.78 253.9,306.95 254.4,307.19 254.9,307.32 255.4,307.61 255.9,307.76 256.4,307.94 256.9,308.21 257.4,308.31 257.9,308.6 258.4,308.69 258.9,308.86 259.4,309.11 259.9,309.19 260.4,309.22 260.9,309.29 261.4,309.48 261.9,309.52 262.4,309.62 262.9,309.61 263.4,309.74 263.9,309.78 264.4,309.83 264.9,309.9 265.4,310 265.9,310.02 266.4,310.07 266.9,310.09 267.4,310.22 267.9,310.24 268.4,310.29 268.9,310.27 269.4,310.35 269.9,310.33 270.4,310.35 270.9,310.36 271.4,310.39 271.9,310.35 272.4,310.31 272.9,310.31 273.4,310.34 273.9,310.32 274.4,310.44 274.9,310.39 275.4,310.43 275.9,310.34 276.4,310.4 276.9,310.47 277.4,310.43 277.9,310.41 278.4,310.42 278.9,310.38 279.4,310.39 279.9,310.39 280.4,310.42 280.9,310.43 281.4,310.5 281.9,310.4 282.4,310.42 282.9,310.43 283.4,310.41 283.9,310.43 284.4,310.43 284.9,310.47 285.4,310.41 285.9,310.53 286.4,310.46 286.9,310.54 287.4,310.51 287.9,310.51 288.4,310.48 288.9,310.55 289.4,310.44 289.9,310.52 290.4,310.47 290.9,310.52 291.4,310.53 291.9,310.46 292.4,310.46 292.9,310.44 293.4,310.47 293.9,310.45 294.4,310.5 294.9,310.57 295.4,310.49 295.9,310.49 296.4,310.51 296.9,310.49 297.4,310.55 297.9,310.55 298.4,310.48 298.9,310.49 299.4,310.55 299.9,310.59 300.4,310.55 300.9,310.52 301.4,310.59 301.9,310.47 302.4,310.47 302.9,310.57 303.4,310.52 303.9,310.48 304.4,310.55 304.9,310.61 305.4,310.55 305.9,310.52 306.4,310.49 306.9,310.49 307.4,310.6 307.9,310.55 308.4,310.61 308.9,310.5 309.4,310.52 309.9,310.5 310.4,310.55 310.9,310.5 311.4,310.53 311.9,310.56 312.4,310.54 312.9,310.51 313.4,310.51 313.9,310.64" fill="none" stroke="#1f77b4" stroke-width="1.9" stroke-linejoin="round" stroke-linecap="round"/>
<polyline points="54.4,315.8 54.9,315.77 55.4,315.57 55.9,315.41 56.4,315.24 56.9,315.54 57.4,315.4 57.9,315.51 58.4,315.27 58.9,315.43 59.4,315.15 59.9,315.37 60.4,315.3 60.9,315.1 61.4,315.12 61.9,315.15 62.4,314.86 62.9,315 63.4,315.08 63.9,314.76 64.4,314.98 64.9,314.87 65.4,314.89 65.9,314.57 66.4,314.39 66.9,314.68 67.4,314.62 67.9,314.38 68.4,314.15 68.9,314.14 69.4,314.31 69.9,314.09 70.4,314.38 70.9,314.16 71.4,313.94 71.9,314.14 72.4,313.98 72.9,314.25 73.4,314.37 73.9,314.62 74.4,315.45 74.9,316.87 75.4,318.66 75.9,320.49 76.4,321.62 76.9,323.49 77.4,325.24 77.9,326.47 78.4,327.91 78.9,327.75 79.4,327.15 79.9,325.49 80.4,323.19 80.9,320.41 81.4,316.56 81.9,311.43 82.4,310.22 82.9,309.57 83.4,309.28 83.9,309.39 84.4,309.15 84.9,308.67 85.4,308.94 85.9,308.46 86.4,308.54 86.9,308.76 87.4,308.56 87.9,308.35 88.4,308.34 88.9,308.3 89.4,308.12 89.9,308.5 90.4,307.97 90.9,308.09 91.4,308.17 91.9,307.9 92.4,308.08 92.9,307.56 93.4,307.69 93.9,307.35 94.4,306.89 94.9,306.61 95.4,305.97 95.9,305.73 96.4,305.29 96.9,304.73 97.4,304.32 97.9,304.08 98.4,303.5 98.9,302.95 99.4,303.1 99.9,303.02 100.4,303.6 100.9,304.42 101.4,304.88 101.9,305.55 102.4,306.37 102.9,307.61 103.4,308.55 103.9,309.4 104.4,310.03 104.9,310.31 105.4,309.82 105.9,309.64 106.4,309.55 106.9,309.07 107.4,308.58 107.9,308.43 108.4,308.28 108.9,308.06 109.4,308.14 109.9,308.07 110.4,308.29 110.9,308.03 111.4,308.17 111.9,308.31 112.4,308.27 112.9,307.98 113.4,308.08 113.9,307.92 114.4,307.95 114.9,307.98 115.4,308.12 115.9,308.18 116.4,307.84 116.9,307.69 117.4,307.89 117.9,307.67 118.4,307.63 118.9,307.98 119.4,307.62 119.9,307.87 120.4,307.64 120.9,307.85 121.4,307.73 121.9,307.24 122.4,307.22 122.9,307.5 123.4,307.25 123.9,307.07 124.4,307.17 124.9,307.13 125.4,306.92 125.9,306.88 126.4,306.71 126.9,307.27 127.4,308 127.9,309.25 128.4,310.2 128.9,310.66 129.4,311.1 129.9,310.52 130.4,309.89 130.9,309.38 131.4,308.53 131.9,308.2 132.4,307.88 132.9,307.91 133.4,307.63 133.9,307.98 134.4,307.61 134.9,307.87 135.4,308.02 135.9,308.02 136.4,308.01 136.9,307.79 137.4,307.91 137.9,307.96 138.4,307.63 138.9,308.04 139.4,308.02 139.9,307.78 140.4,307.95 140.9,307.79 141.4,307.7 141.9,307.92 142.4,307.6 142.9,307.97 143.4,308.06 143.9,307.71 144.4,308.04 144.9,307.62 145.4,308.01 145.9,307.73 146.4,308.08 146.9,307.81 147.4,308.07 147.9,307.63 148.4,307.67 148.9,308.04 149.4,307.97 149.9,307.93 150.4,307.69 150.9,307.78 151.4,307.89 151.9,307.75 152.4,308.24 152.9,308.15 153.4,308.26 153.9,308.16 154.4,308.01 154.9,307.9 155.4,308.26 155.9,307.98 156.4,308.22 156.9,308.22 157.4,308.27 157.9,308.38 158.4,309.13 158.9,310 159.4,309.85 159.9,309.79 160.4,309.12 160.9,308.67 161.4,308.22 161.9,308.31 162.4,308.2 162.9,308.11 163.4,308.09 163.9,308.25 164.4,308.42 164.9,308.16 165.4,308.02 165.9,308.09 166.4,308.04 166.9,308.2 167.4,308.3 167.9,308.18 168.4,307.98 168.9,308.04 169.4,308.06 169.9,308.09 170.4,308.06 170.9,308.35 171.4,308.12 171.9,308.17 172.4,308.2 172.9,308.16 173.4,308.23 173.9,308.01 174.4,308.16 174.9,308.31 175.4,307.9 175.9,308.13 176.4,308 176.9,307.84 177.4,307.83 177.9,308.18 178.4,307.86 178.9,308.16 179.4,307.85 179.9,307.98 180.4,307.81 180.9,308.07 181.4,308.19 181.9,307.91 182.4,308.08 182.9,308.26 183.4,307.94 183.9,308.03 184.4,308.16 184.9,308.23 185.4,307.88 185.9,308.13 186.4,307.87 186.9,307.87 187.4,308.31 187.9,307.86 188.4,308.3 188.9,308.23 189.4,308.2 189.9,308.24 190.4,308.22 190.9,308.05 191.4,308.14 191.9,308.04 192.4,308.39 192.9,308.36 193.4,308.39 193.9,308.12 194.4,308.33 194.9,308.18 195.4,308.47 195.9,308.47 196.4,308.61 196.9,308.49 197.4,308.5 197.9,308.57 198.4,308.25 198.9,308.52 199.4,308.26 199.9,308.45 200.4,308.45 200.9,308.66 201.4,308.47 201.9,308.69 202.4,308.71 202.9,308.62 203.4,308.73 203.9,308.57 204.4,308.61 204.9,308.59 205.4,308.62 205.9,308.62 206.4,308.82 206.9,308.67 207.4,308.8 207.9,308.75 208.4,308.73 208.9,308.81 209.4,308.78 209.9,308.97 210.4,308.86 210.9,308.92 211.4,308.93 211.9,308.96 212.4,308.95 212.9,308.92 213.4,308.91 213.9,309.09 214.4,308.95 214.9,309.03 215.4,309.12 215.9,309.09 216.4,309.19 216.9,309.17 217.4,309.11 217.9,309.04 218.4,309.16 218.9,309.14 219.4,309.24 219.9,309.17 220.4,309.22 220.9,309.25 221.4,309.18 221.9,309.27 222.4,309.28 222.9,309.12 223.4,309.29 223.9,309.25 224.4,309.19 224.9,308.99 225.4,308.87 225.9,308.71 226.4,308.61 226.9,308.55 227.4,308.26 227.9,307.99 228.4,307.86 228.9,307.61 229.4,307.53 229.9,307.36 230.4,307.16 230.9,306.72 231.4,306.49 231.9,306.12 232.4,305.96 232.9,305.58 233.4,305.13 233.9,304.84 234.4,304.33 234.9,303.92 235.4,303.34 235.9,302.76 236.4,302.33 236.9,301.71 237.4,301.08 237.9,300.6 238.4,300.03 238.9,299.56 239.4,298.87 239.9,298.36 240.4,297.88 240.9,297.57 241.4,297.29 241.9,296.91 242.4,296.8 242.9,296.68 243.4,297.13 243.9,297.74 244.4,298.29 244.9,299.14 245.4,299.65 245.9,300.16 246.4,300.85 246.9,301.45 247.4,302.2 247.9,302.81 248.4,303.14 248.9,303.6 249.4,304.13 249.9,304.59 250.4,304.93 250.9,305.2 251.4,305.41 251.9,305.77 252.4,305.96 252.9,306.23 253.4,306.36 253.9,306.58 254.4,306.81 254.9,306.93 255.4,307.2 255.9,307.28 256.4,307.46 256.9,307.89 257.4,307.93 257.9,308.37 258.4,308.46 258.9,308.55 259.4,308.76 259.9,308.98 260.4,309 260.9,309.14 261.4,309.1 261.9,309.35 262.4,309.32 262.9,309.5 263.4,309.42 263.9,309.6 264.4,309.62 264.9,309.67 265.4,309.64 265.9,309.81 266.4,309.92 266.9,309.81 267.4,309.92 267.9,309.86 268.4,310.12 268.9,310.14 269.4,310.11 269.9,310.08 270.4,310.01 270.9,310.03 271.4,310.18 271.9,310.21 272.4,310.26 272.9,310.24 273.4,310.16 273.9,310.13 274.4,310.2 274.9,310.17 275.4,310.22 275.9,310.31 276.4,310.22 276.9,310.35 277.4,310.3 277.9,310.15 278.4,310.32 278.9,310.31 279.4,310.31 279.9,310.17 280.4,310.38 280.9,310.3 281.4,310.31 281.9,310.24 282.4,310.21 282.9,310.22 283.4,310.27 283.9,310.29 284.4,310.26 284.9,310.25 285.4,310.4 285.9,310.4 286.4,310.45 286.9,310.31 287.4,310.43 287.9,310.4 288.4,310.29 288.9,310.47 289.4,310.36 289.9,310.33 290.4,310.33 290.9,310.5 291.4,310.35 291.9,310.39 292.4,310.43 292.9,310.39 293.4,310.46 293.9,310.33 294.4,310.41 294.9,310.45 295.4,310.46 295.9,310.47 296.4,310.39 296.9,310.48 297.4,310.56 297.9,310.45 298.4,310.49 298.9,310.54 299.4,310.41 299.9,310.41 300.4,310.58 300.9,310.43 301.4,310.46 301.9,310.45 302.4,310.59 302.9,310.5 303.4,310.58 303.9,310.42 304.4,310.45 304.9,310.53 305.4,310.46 305.9,310.54 306.4,310.51 306.9,310.42 307.4,310.43 307.9,310.51 308.4,310.53 308.9,310.46 309.4,310.48 309.9,310.43 310.4,310.49 310.9,310.5 311.4,310.53 311.9,310.58 312.4,310.64 312.9,310.62 313.4,310.63 313.9,310.53" fill="none" stroke="#8c564b" stroke-width="1.9" stroke-linejoin="round" stroke-linecap="round"/>
<polyline points="54.4,319.41 54.9,319.35 55.4,319.89 55.9,319.46 56.4,319.96 56.9,319.9 57.4,319.71 57.9,320.2 58.4,319.87 58.9,320.31 59.4,320.08 59.9,320.19 60.4,320.58 60.9,321.04 61.4,320.5 61.9,320.69 62.4,321.16 62.9,321.55 63.4,321.33 63.9,321.28 64.4,321.92 64.9,321.21 65.4,322.06 65.9,321.68 66.4,321.68 66.9,321.79 67.4,322.09 67.9,322.69 68.4,322.26 68.9,322.76 69.4,322.96 69.9,322.86 70.4,323.17 70.9,322.88 71.4,323 71.9,323.24 72.4,323.77 72.9,323.67 73.4,323.74 73.9,324.22 74.4,324.47 74.9,326.26 75.4,330.03 75.9,333.91 76.4,339 76.9,345.06 77.4,350.64 77.9,356.46 78.4,360.75 78.9,364.52 79.4,367.62 79.9,366.13 80.4,363.73 80.9,361.03 81.4,357.1 81.9,353.63 82.4,349.75 82.9,346.96 83.4,341.92 83.9,333.08 84.4,325.3 84.9,317.69 85.4,312.2 85.9,308.46 86.4,305.48 86.9,303.21 87.4,302.46 87.9,302 88.4,301.18 88.9,301.09 89.4,300.39 89.9,300.82 90.4,300.64 90.9,300.82 91.4,300.54 91.9,299.95 92.4,299.94 92.9,300.1 93.4,299.43 93.9,299.75 94.4,299.42 94.9,299.32 95.4,299.22 95.9,299.82 96.4,299.21 96.9,299.3 97.4,299.42 97.9,299.85 98.4,299.17 98.9,299.57 99.4,299.75 99.9,300.17 100.4,300.25 100.9,300.44 101.4,300.08 101.9,300.38 102.4,300.51 102.9,301.17 103.4,301.41 103.9,300.86 104.4,301.05 104.9,301.25 105.4,301.38 105.9,301.72 106.4,301.91 106.9,301.68 107.4,301.52 107.9,301.96 108.4,301.97 108.9,302.2 109.4,302.61 109.9,302.42 110.4,302.31 110.9,302.45 111.4,302.55 111.9,302.03 112.4,302.84 112.9,302.78 113.4,302.91 113.9,302.89 114.4,302.58 114.9,302.64 115.4,302.43 115.9,302.96 116.4,302.5 116.9,302.55 117.4,302.73 117.9,302.74 118.4,302.95 118.9,302.75 119.4,302.76 119.9,302.95 120.4,302.96 120.9,303.26 121.4,303.02 121.9,303.86 122.4,303.7 122.9,303.36 123.4,303.53 123.9,303.69 124.4,303.78 124.9,303.66 125.4,304.43 125.9,304.71 126.4,304.42 126.9,304.81 127.4,306.23 127.9,309.02 128.4,312.16 128.9,314.3 129.4,315.47 129.9,314.3 130.4,313.02 130.9,312.42 131.4,310.65 131.9,309.26 132.4,309.23 132.9,308.71 133.4,309.1 133.9,309.46 134.4,309.31 134.9,309.12 135.4,308.69 135.9,308.76 136.4,308.55 136.9,309.07 137.4,308.83 137.9,309.03 138.4,308.62 138.9,308.51 139.4,309.03 139.9,309.18 140.4,309.05 140.9,309.01 141.4,309.02 141.9,308.95 142.4,308.49 142.9,308.75 143.4,308.61 143.9,308.31 144.4,308.31 144.9,308.54 145.4,308.52 145.9,308.91 146.4,309.15 146.9,308.69 147.4,309.13 147.9,309.17 148.4,309.15 148.9,308.61 149.4,308.48 149.9,308.49 150.4,308.46 150.9,308.47 151.4,308.85 151.9,309.1 152.4,309.04 152.9,308.72 153.4,308.87 153.9,309.01 154.4,308.5 154.9,309.48 155.4,310.43 155.9,311.17 156.4,312.06 156.9,312.68 157.4,313.13 157.9,314.16 158.4,313.88 158.9,314.08 159.4,313.74 159.9,312.54 160.4,311.75 160.9,311.43 161.4,310.47 161.9,309.36 162.4,308.94 162.9,308.85 163.4,309.45 163.9,309.3 164.4,308.64 164.9,309.19 165.4,309.27 165.9,308.93 166.4,308.6 166.9,308.73 167.4,308.31 167.9,308.17 168.4,308.99 168.9,308.67 169.4,308.52 169.9,308.86 170.4,308.38 170.9,308.74 171.4,308.68 171.9,308.1 172.4,308.11 172.9,308.13 173.4,308.06 173.9,308.35 174.4,308.03 174.9,308.16 175.4,307.88 175.9,308.57 176.4,308.05 176.9,308.12 177.4,308.22 177.9,308.49 178.4,308.04 178.9,308.47 179.4,308.07 179.9,308.08 180.4,308.05 180.9,307.57 181.4,307.93 181.9,307.67 182.4,307.49 182.9,308.17 183.4,307.58 183.9,307.82 184.4,308.01 184.9,307.82 185.4,307.57 185.9,307.7 186.4,307.69 186.9,307.84 187.4,307.18 187.9,307.54 188.4,307.21 188.9,307.18 189.4,307.58 189.9,307.29 190.4,307.29 190.9,307.43 191.4,307.52 191.9,307.06 192.4,307.18 192.9,307.05 193.4,307.03 193.9,307.18 194.4,306.95 194.9,307.01 195.4,306.96 195.9,307.39 196.4,307.17 196.9,307.34 197.4,307.42 197.9,306.82 198.4,307.11 198.9,307.47 199.4,307.4 199.9,306.8 200.4,307 200.9,307.16 201.4,307.04 201.9,307.14 202.4,307.1 202.9,307.38 203.4,307.46 203.9,307.54 204.4,307.28 204.9,307.54 205.4,307.55 205.9,307.38 206.4,307.72 206.9,307.79 207.4,307.52 207.9,307.85 208.4,307.66 208.9,307.73 209.4,307.96 209.9,307.93 210.4,307.68 210.9,307.82 211.4,307.88 211.9,307.84 212.4,307.82 212.9,307.9 213.4,308.1 213.9,307.85 214.4,308.1 214.9,308.09 215.4,307.96 215.9,308.12 216.4,308.27 216.9,308.26 217.4,308.11 217.9,308.51 218.4,308.46 218.9,308.57 219.4,308.24 219.9,308.33 220.4,308.26 220.9,308.58 221.4,308.39 221.9,308.34 222.4,308.47 222.9,308.67 223.4,308.63 223.9,308.38 224.4,308.27 224.9,308.49 225.4,308.23 225.9,308.13 226.4,307.72 226.9,307.52 227.4,307.57 227.9,307.25 228.4,306.88 228.9,307.01 229.4,306.65 229.9,306.49 230.4,305.93 230.9,305.94 231.4,305.28 231.9,305.23 232.4,304.67 232.9,304.2 233.4,303.85 233.9,303.55 234.4,302.82 234.9,302.25 235.4,301.86 235.9,301.16 236.4,300.5 236.9,299.89 237.4,299.22 237.9,298.65 238.4,298.08 238.9,297.45 239.4,296.95 239.9,296.09 240.4,295.55 240.9,294.88 241.4,294.49 241.9,293.93 242.4,293.89 242.9,294.12 243.4,295.08 243.9,295.84 244.4,296.5 244.9,297.33 245.4,298.28 245.9,298.75 246.4,299.84 246.9,300.45 247.4,301.17 247.9,301.9 248.4,302.23 248.9,302.77 249.4,303.31 249.9,303.85 250.4,303.96 250.9,304.47 251.4,304.66 251.9,304.81 252.4,304.86 252.9,304.95 253.4,304.94 253.9,305.08 254.4,305.18 254.9,305.61 255.4,305.63 255.9,305.86 256.4,306.14 256.9,306.79 257.4,307.15 257.9,307.42 258.4,307.6 258.9,307.89 259.4,308.17 259.9,308.43 260.4,308.46 260.9,308.71 261.4,308.76 261.9,309.17 262.4,309.3 262.9,309.24 263.4,309.22 263.9,309.62 264.4,309.45 264.9,309.57 265.4,309.51 265.9,309.75 266.4,309.87 266.9,309.95 267.4,309.9 267.9,310.08 268.4,309.94 268.9,310.1 269.4,310.07 269.9,310.24 270.4,310.13 270.9,310.16 271.4,310.3 271.9,310.3 272.4,310.47 272.9,310.47 273.4,310.58 273.9,310.57 274.4,310.61 274.9,310.7 275.4,310.52 275.9,310.51 276.4,310.8 276.9,310.48 277.4,310.73 277.9,310.71 278.4,310.48 278.9,310.82 279.4,310.85 279.9,310.76 280.4,310.82 280.9,310.86 281.4,310.6 281.9,310.77 282.4,310.77 282.9,310.92 283.4,310.92 283.9,310.94 284.4,310.85 284.9,310.99 285.4,310.91 285.9,310.93 286.4,310.75 286.9,310.69 287.4,310.74 287.9,310.84 288.4,310.75 288.9,311.06 289.4,310.96 289.9,311.01 290.4,311.02 290.9,311.06 291.4,311 291.9,310.82 292.4,311.16 292.9,311.15 293.4,311.07 293.9,311.11 294.4,311.18 294.9,310.95 295.4,311.25 295.9,311.07 296.4,311.02 296.9,311.11 297.4,311.32 297.9,311.13 298.4,311.37 298.9,311.48 299.4,311.31 299.9,311.29 300.4,311.35 300.9,311.45 301.4,311.51 301.9,311.47 302.4,311.5 302.9,311.29 303.4,311.34 303.9,311.41 304.4,311.63 304.9,311.47 305.4,311.6 305.9,311.4 306.4,311.44 306.9,311.55 307.4,311.73 307.9,311.76 308.4,311.78 308.9,311.65 309.4,311.76 309.9,311.76 310.4,311.78 310.9,311.67 311.4,312 311.9,311.74 312.4,312.08 312.9,312.08 313.4,311.73 313.9,311.93" fill="none" stroke="#d62728" stroke-width="1.9" stroke-linejoin="round" stroke-linecap="round"/>
<polyline points="54.4,318.62 54.9,318.79 55.4,318.8 55.9,318.95 56.4,318.98 56.9,319.08 57.4,319.25 57.9,319.26 58.4,319.4 58.9,319.47 59.4,319.56 59.9,319.66 60.4,319.72 60.9,319.88 61.4,319.9 61.9,320.01 62.4,320.09 62.9,320.21 63.4,320.32 63.9,320.46 64.4,320.5 64.9,320.55 65.4,320.65 65.9,320.81 66.4,320.79 66.9,320.93 67.4,321 67.9,321.12 68.4,321.18 68.9,321.33 69.4,321.42 69.9,321.56 70.4,321.72 70.9,321.84 71.4,321.96 71.9,322.13 72.4,322.42 72.9,322.64 73.4,322.95 73.9,323.49 74.4,324.09 74.9,325.78 75.4,328.71 75.9,333.75 76.4,339.85 76.9,347.34 77.4,356.38 77.9,376.25 78.4,389.16 78.9,394.85 79.4,397.97 79.9,398.59 80.4,397.37 80.9,395.45 81.4,393.39 81.9,390.76 82.4,387.55 82.9,383.49 83.4,377.56 83.9,365.56 84.4,353.14 84.9,342.16 85.4,332.85 85.9,324.48 86.4,317.44 86.9,311.6 87.4,308.26 87.9,305.75 88.4,303.82 88.9,302.56 89.4,301.77 89.9,301.05 90.4,300.52 90.9,300.04 91.4,299.71 91.9,299.42 92.4,299.07 92.9,298.89 93.4,298.61 93.9,298.35 94.4,298.23 94.9,298 95.4,297.84 95.9,297.75 96.4,297.66 96.9,297.66 97.4,297.74 97.9,297.91 98.4,298.2 98.9,298.51 99.4,298.89 99.9,299.33 100.4,299.8 100.9,300.32 101.4,300.78 101.9,301.28 102.4,301.7 102.9,302.23 103.4,302.82 103.9,303.32 104.4,303.91 104.9,304.51 105.4,305.08 105.9,305.59 106.4,306.02 106.9,306.37 107.4,306.83 107.9,307.13 108.4,307.59 108.9,307.88 109.4,308.25 109.9,308.41 110.4,308.68 110.9,308.75 111.4,308.77 111.9,308.61 112.4,308.37 112.9,308.19 113.4,307.84 113.9,307.49 114.4,307.23 114.9,306.95 115.4,306.7 115.9,306.39 116.4,306.08 116.9,305.82 117.4,305.51 117.9,305.19 118.4,304.98 118.9,304.81 119.4,304.67 119.9,304.58 120.4,304.64 120.9,304.89 121.4,305.29 121.9,305.84 122.4,306.52 122.9,307.23 123.4,308.12 123.9,309.47 124.4,311.37 124.9,313.61 125.4,316.15 125.9,318.72 126.4,321.14 126.9,323.46 127.4,326 127.9,328.78 128.4,331.58 128.9,334.03 129.4,335.98 129.9,337.15 130.4,337.22 130.9,336.13 131.4,334.22 131.9,332.04 132.4,329.84 132.9,327.97 133.4,326.84 133.9,325.87 134.4,324.88 134.9,324.08 135.4,323.48 135.9,323.16 136.4,323.05 136.9,323.53 137.4,324.36 137.9,325.45 138.4,326.76 138.9,328.13 139.4,329.41 139.9,331.13 140.4,333.3 140.9,335.26 141.4,336.77 141.9,337.37 142.4,337.02 142.9,336.13 143.4,334.94 143.9,333.6 144.4,332.21 144.9,330.89 145.4,329.86 145.9,328.86 146.4,327.84 146.9,326.76 147.4,325.66 147.9,324.61 148.4,323.6 148.9,322.65 149.4,321.81 149.9,321 150.4,320.36 150.9,319.96 151.4,319.63 151.9,319.57 152.4,319.86 152.9,320.66 153.4,321.63 153.9,322.85 154.4,324.2 154.9,325.45 155.4,327.12 155.9,329.39 156.4,331.69 156.9,333.82 157.4,335.42 157.9,335.97 158.4,335.58 158.9,334.54 159.4,333.16 159.9,331.42 160.4,329.62 160.9,327.8 161.4,326.3 161.9,325.12 162.4,324.05 162.9,323.05 163.4,322.07 163.9,321.14 164.4,320.25 164.9,319.43 165.4,318.65 165.9,318.09 166.4,317.63 166.9,317.2 167.4,316.89 167.9,316.6 168.4,316.31 168.9,316.07 169.4,315.79 169.9,315.71 170.4,315.69 170.9,315.7 171.4,315.76 171.9,315.87 172.4,316.11 172.9,316.24 173.4,316.32 173.9,316.33 174.4,316.29 174.9,316.03 175.4,315.64 175.9,315.17 176.4,314.64 176.9,314.13 177.4,313.66 177.9,313.26 178.4,312.88 178.9,312.41 179.4,312.04 179.9,311.59 180.4,311.19 180.9,310.88 181.4,310.66 181.9,310.53 182.4,310.44 182.9,310.26 183.4,310.17 183.9,310.07 184.4,309.96 184.9,309.92 185.4,309.76 185.9,309.67 186.4,309.63 186.9,309.57 187.4,309.51 187.9,309.41 188.4,309.32 188.9,309.31 189.4,309.24 189.9,309.16 190.4,309.12 190.9,309.12 191.4,309.08 191.9,309.04 192.4,308.93 192.9,308.92 193.4,308.91 193.9,308.87 194.4,308.91 194.9,308.83 195.4,308.91 195.9,308.88 196.4,308.89 196.9,308.87 197.4,308.93 197.9,308.9 198.4,308.95 198.9,308.96 199.4,308.95 199.9,308.99 200.4,308.96 200.9,308.96 201.4,309 201.9,309 202.4,309.01 202.9,309.04 203.4,309.05 203.9,309.05 204.4,309.1 204.9,309.1 205.4,309.14 205.9,309.13 206.4,309.16 206.9,309.14 207.4,309.15 207.9,309.18 208.4,309.19 208.9,309.2 209.4,309.2 209.9,309.18 210.4,309.19 210.9,309.18 211.4,309.19 211.9,309.22 212.4,309.19 212.9,309.21 213.4,309.2 213.9,309.18 214.4,309.21 214.9,309.18 215.4,309.18 215.9,309.2 216.4,309.18 216.9,309.22 217.4,309.19 217.9,309.2 218.4,309.22 218.9,309.18 219.4,309.22 219.9,309.18 220.4,309.2 220.9,309.2 221.4,309.22 221.9,309.19 222.4,309.22 222.9,309.12 223.4,308.89 223.9,308.52 224.4,308.08 224.9,307.57 225.4,307 225.9,306.42 226.4,305.87 226.9,305.31 227.4,304.83 227.9,304.35 228.4,303.9 228.9,303.44 229.4,302.91 229.9,302.25 230.4,301.46 230.9,300.4 231.4,299.1 231.9,297.63 232.4,296.11 232.9,294.58 233.4,293.07 233.9,291.49 234.4,289.81 234.9,288.03 235.4,286.12 235.9,284.1 236.4,281.98 236.9,279.57 237.4,276.85 237.9,273.09 238.4,268.55 238.9,264.23 239.4,261.17 239.9,258.82 240.4,256.8 240.9,255.16 241.4,253.96 241.9,253.11 242.4,252.4 242.9,252.03 243.4,252.24 243.9,253.04 244.4,254.14 244.9,255.53 245.4,257.61 245.9,260.09 246.4,262.65 246.9,265.76 247.4,269.2 247.9,272.63 248.4,275.82 248.9,278.46 249.4,280.97 249.9,283.28 250.4,285.46 250.9,287.47 251.4,289.33 251.9,290.99 252.4,292.59 252.9,294.09 253.4,295.4 253.9,296.53 254.4,297.47 254.9,298.3 255.4,299.01 255.9,299.73 256.4,300.36 256.9,301.04 257.4,301.7 257.9,302.47 258.4,303.22 258.9,304.08 259.4,304.85 259.9,305.63 260.4,306.32 260.9,306.93 261.4,307.38 261.9,307.78 262.4,308.13 262.9,308.44 263.4,308.74 263.9,309.01 264.4,309.29 264.9,309.52 265.4,309.69 265.9,309.82 266.4,309.95 266.9,310.06 267.4,310.14 267.9,310.25 268.4,310.31 268.9,310.38 269.4,310.44 269.9,310.51 270.4,310.56 270.9,310.57 271.4,310.6 271.9,310.63 272.4,310.63 272.9,310.66 273.4,310.68 273.9,310.69 274.4,310.7 274.9,310.73 275.4,310.75 275.9,310.74 276.4,310.78 276.9,310.78 277.4,310.8 277.9,310.81 278.4,310.81 278.9,310.82 279.4,310.82 279.9,310.84 280.4,310.82 280.9,310.84 281.4,310.86 281.9,310.88 282.4,310.88 282.9,310.9 283.4,310.9 283.9,310.91 284.4,310.9 284.9,310.91 285.4,310.91 285.9,310.91 286.4,310.94 286.9,310.94 287.4,310.92 287.9,310.94 288.4,310.94 288.9,310.97 289.4,310.98 289.9,310.97 290.4,311 290.9,311.01 291.4,311 291.9,311.02 292.4,311.06 292.9,311.03 293.4,311.05 293.9,311.08 294.4,311.11 294.9,311.12 295.4,311.11 295.9,311.14 296.4,311.13 296.9,311.16 297.4,311.19 297.9,311.2 298.4,311.21 298.9,311.23 299.4,311.24 299.9,311.26 300.4,311.29 300.9,311.31 301.4,311.29 301.9,311.33 302.4,311.36 302.9,311.36 303.4,311.37 303.9,311.38 304.4,311.4 304.9,311.42 305.4,311.44 305.9,311.44 306.4,311.49 306.9,311.48 307.4,311.51 307.9,311.51 308.4,311.55 308.9,311.54 309.4,311.57 309.9,311.59 310.4,311.6 310.9,311.62 311.4,311.63 311.9,311.66 312.4,311.69 312.9,311.7 313.4,311.73 313.9,311.74" fill="none" stroke="#e377c2" stroke-width="1.9" stroke-linejoin="round" stroke-linecap="round"/>
</g>
<line x1="240.72" y1="229.1" x2="240.72" y2="402.8" stroke="#000" stroke-width="2.0" stroke-dasharray="6.6,3.2"/>
<text x="0" y="0" transform="translate(94,245.3) rotate(-90)" font-size="9.5" fill="#000" text-anchor="middle" stroke="#000">Si-OH</text>
<text x="0" y="0" transform="translate(143.6,245.3) rotate(-90)" font-size="9.5" fill="#000" text-anchor="middle" stroke="#000">O-H<tspan font-size="6.3" dy="1.8">HF</tspan></text>
<text x="0" y="0" transform="translate(171.4,245.3) rotate(-90)" font-size="9.5" fill="#000" text-anchor="middle" stroke="#000">O-H<tspan font-size="6.3" dy="1.8">LF</tspan></text>
<text x="0" y="0" transform="translate(254.1,249.7) rotate(-90)" font-size="9.5" fill="#000" text-anchor="middle" stroke="#000">N-H</text>
<line x1="256.8" y1="328" x2="277.2" y2="328" stroke="#8c564b" stroke-width="2.0"/>
<text x="283.8" y="331.3" font-size="9.5" fill="#000" stroke="#000">ZY<tspan font-size="7.0" dy="2.1">5</tspan></text>
<line x1="256.8" y1="340.6" x2="277.2" y2="340.6" stroke="#1f77b4" stroke-width="2.0"/>
<text x="283.8" y="343.9" font-size="9.5" fill="#000" stroke="#000">ZY<tspan font-size="7.0" dy="2.1">14</tspan></text>
<line x1="256.8" y1="353.2" x2="277.2" y2="353.2" stroke="#e377c2" stroke-width="2.0"/>
<text x="283.8" y="356.5" font-size="9.5" fill="#000" stroke="#000">ZY<tspan font-size="7.0" dy="2.1">35st</tspan></text>
<line x1="256.8" y1="365.8" x2="277.2" y2="365.8" stroke="#ff7f0e" stroke-width="2.0"/>
<text x="283.8" y="369.1" font-size="9.5" fill="#000" stroke="#000">ZY<tspan font-size="7.0" dy="2.1">36</tspan></text>
<line x1="256.8" y1="378.5" x2="277.2" y2="378.5" stroke="#2ca02c" stroke-width="2.0"/>
<text x="283.8" y="381.8" font-size="9.5" fill="#000" stroke="#000">ZY<tspan font-size="7.0" dy="2.1">47</tspan></text>
<line x1="256.8" y1="391.2" x2="277.2" y2="391.2" stroke="#d62728" stroke-width="2.0"/>
<text x="283.8" y="394.5" font-size="9.5" fill="#000" stroke="#000">ZY<tspan font-size="7.0" dy="2.1">55</tspan></text>
<rect x="54.4" y="229.1" width="259.8" height="173.7" fill="none" stroke="#000" stroke-width="0.9"/>
<rect x="385.4" y="255.25" width="14.5" height="147.55" fill="#1f77b4"/>
<rect x="399.9" y="380.39" width="14.5" height="22.41" fill="#ff7f0e"/>
<rect x="426.85" y="311.62" width="14.5" height="91.18" fill="#1f77b4"/>
<rect x="441.35" y="381.78" width="14.5" height="21.02" fill="#ff7f0e"/>
<rect x="468.3" y="325.4" width="14.5" height="77.4" fill="#1f77b4"/>
<rect x="482.8" y="310.28" width="14.5" height="92.52" fill="#ff7f0e"/>
<rect x="509.75" y="351.99" width="14.5" height="50.81" fill="#1f77b4"/>
<rect x="524.25" y="380.51" width="14.5" height="22.29" fill="#ff7f0e"/>
<rect x="551.2" y="370.2" width="14.5" height="32.6" fill="#1f77b4"/>
<rect x="565.7" y="383" width="14.5" height="19.8" fill="#ff7f0e"/>
<rect x="592.65" y="374.26" width="14.5" height="28.54" fill="#1f77b4"/>
<rect x="607.15" y="375.82" width="14.5" height="26.98" fill="#ff7f0e"/>
<line x1="392.85" y1="240.86" x2="392.85" y2="269.63" stroke="#000" stroke-width="1.9"/>
<line x1="388.75" y1="240.86" x2="396.95" y2="240.86" stroke="#000" stroke-width="1.9"/>
<line x1="388.75" y1="269.63" x2="396.95" y2="269.63" stroke="#000" stroke-width="1.9"/>
<line x1="434.3" y1="302.72" x2="434.3" y2="320.53" stroke="#000" stroke-width="1.9"/>
<line x1="430.2" y1="302.72" x2="438.4" y2="302.72" stroke="#000" stroke-width="1.9"/>
<line x1="430.2" y1="320.53" x2="438.4" y2="320.53" stroke="#000" stroke-width="1.9"/>
<line x1="475.75" y1="317.7" x2="475.75" y2="333.11" stroke="#000" stroke-width="1.9"/>
<line x1="471.65" y1="317.7" x2="479.85" y2="317.7" stroke="#000" stroke-width="1.9"/>
<line x1="471.65" y1="333.11" x2="479.85" y2="333.11" stroke="#000" stroke-width="1.9"/>
<line x1="517.2" y1="347" x2="517.2" y2="356.98" stroke="#000" stroke-width="1.9"/>
<line x1="513.1" y1="347" x2="521.3" y2="347" stroke="#000" stroke-width="1.9"/>
<line x1="513.1" y1="356.98" x2="521.3" y2="356.98" stroke="#000" stroke-width="1.9"/>
<line x1="558.65" y1="366.72" x2="558.65" y2="373.68" stroke="#000" stroke-width="1.9"/>
<line x1="554.55" y1="366.72" x2="562.75" y2="366.72" stroke="#000" stroke-width="1.9"/>
<line x1="554.55" y1="373.68" x2="562.75" y2="373.68" stroke="#000" stroke-width="1.9"/>
<line x1="600.1" y1="371.32" x2="600.1" y2="377.21" stroke="#000" stroke-width="1.9"/>
<line x1="596" y1="371.32" x2="604.2" y2="371.32" stroke="#000" stroke-width="1.9"/>
<line x1="596" y1="377.21" x2="604.2" y2="377.21" stroke="#000" stroke-width="1.9"/>
<rect x="373.7" y="229.1" width="259.8" height="173.7" fill="none" stroke="#000" stroke-width="0.9"/>
<line x1="399.9" y1="402.8" x2="399.9" y2="406.8" stroke="#000" stroke-width="0.9"/>
<text x="399.9" y="419" font-size="9.5" fill="#000" text-anchor="middle" stroke="#000">ZY<tspan font-size="7.0" dy="2.1">5</tspan></text>
<line x1="441.35" y1="402.8" x2="441.35" y2="406.8" stroke="#000" stroke-width="0.9"/>
<text x="441.35" y="419" font-size="9.5" fill="#000" text-anchor="middle" stroke="#000">ZY<tspan font-size="7.0" dy="2.1">14</tspan></text>
<line x1="482.8" y1="402.8" x2="482.8" y2="406.8" stroke="#000" stroke-width="0.9"/>
<text x="482.8" y="419" font-size="9.5" fill="#000" text-anchor="middle" stroke="#000">ZY<tspan font-size="7.0" dy="2.1">35st</tspan></text>
<line x1="524.25" y1="402.8" x2="524.25" y2="406.8" stroke="#000" stroke-width="0.9"/>
<text x="524.25" y="419" font-size="9.5" fill="#000" text-anchor="middle" stroke="#000">ZY<tspan font-size="7.0" dy="2.1">36</tspan></text>
<line x1="565.7" y1="402.8" x2="565.7" y2="406.8" stroke="#000" stroke-width="0.9"/>
<text x="565.7" y="419" font-size="9.5" fill="#000" text-anchor="middle" stroke="#000">ZY<tspan font-size="7.0" dy="2.1">47</tspan></text>
<line x1="607.15" y1="402.8" x2="607.15" y2="406.8" stroke="#000" stroke-width="0.9"/>
<text x="607.15" y="419" font-size="9.5" fill="#000" text-anchor="middle" stroke="#000">ZY<tspan font-size="7.0" dy="2.1">55</tspan></text>
<line x1="369.7" y1="402.8" x2="373.7" y2="402.8" stroke="#000" stroke-width="0.9"/>
<text x="365.2" y="406.1" font-size="9.5" fill="#1f77b4" text-anchor="end" stroke="#1f77b4">0</text>
<line x1="369.7" y1="379.6" x2="373.7" y2="379.6" stroke="#000" stroke-width="0.9"/>
<text x="365.2" y="382.9" font-size="9.5" fill="#1f77b4" text-anchor="end" stroke="#1f77b4">100</text>
<line x1="369.7" y1="356.4" x2="373.7" y2="356.4" stroke="#000" stroke-width="0.9"/>
<text x="365.2" y="359.7" font-size="9.5" fill="#1f77b4" text-anchor="end" stroke="#1f77b4">200</text>
<line x1="369.7" y1="333.2" x2="373.7" y2="333.2" stroke="#000" stroke-width="0.9"/>
<text x="365.2" y="336.5" font-size="9.5" fill="#1f77b4" text-anchor="end" stroke="#1f77b4">300</text>
<line x1="369.7" y1="310" x2="373.7" y2="310" stroke="#000" stroke-width="0.9"/>
<text x="365.2" y="313.3" font-size="9.5" fill="#1f77b4" text-anchor="end" stroke="#1f77b4">400</text>
<line x1="369.7" y1="286.8" x2="373.7" y2="286.8" stroke="#000" stroke-width="0.9"/>
<text x="365.2" y="290.1" font-size="9.5" fill="#1f77b4" text-anchor="end" stroke="#1f77b4">500</text>
<line x1="369.7" y1="263.6" x2="373.7" y2="263.6" stroke="#000" stroke-width="0.9"/>
<text x="365.2" y="266.9" font-size="9.5" fill="#1f77b4" text-anchor="end" stroke="#1f77b4">600</text>
<line x1="369.7" y1="240.4" x2="373.7" y2="240.4" stroke="#000" stroke-width="0.9"/>
<text x="365.2" y="243.7" font-size="9.5" fill="#1f77b4" text-anchor="end" stroke="#1f77b4">700</text>
<line x1="633.5" y1="402.8" x2="637.5" y2="402.8" stroke="#000" stroke-width="0.9"/>
<text x="643" y="406.1" font-size="9.5" fill="#ff7f0e" stroke="#ff7f0e">0</text>
<line x1="633.5" y1="373.85" x2="637.5" y2="373.85" stroke="#000" stroke-width="0.9"/>
<text x="643" y="377.15" font-size="9.5" fill="#ff7f0e" stroke="#ff7f0e">50</text>
<line x1="633.5" y1="344.9" x2="637.5" y2="344.9" stroke="#000" stroke-width="0.9"/>
<text x="643" y="348.2" font-size="9.5" fill="#ff7f0e" stroke="#ff7f0e">100</text>
<line x1="633.5" y1="315.95" x2="637.5" y2="315.95" stroke="#000" stroke-width="0.9"/>
<text x="643" y="319.25" font-size="9.5" fill="#ff7f0e" stroke="#ff7f0e">150</text>
<line x1="633.5" y1="287" x2="637.5" y2="287" stroke="#000" stroke-width="0.9"/>
<text x="643" y="290.3" font-size="9.5" fill="#ff7f0e" stroke="#ff7f0e">200</text>
<line x1="633.5" y1="258.05" x2="637.5" y2="258.05" stroke="#000" stroke-width="0.9"/>
<text x="643" y="261.35" font-size="9.5" fill="#ff7f0e" stroke="#ff7f0e">250</text>
<line x1="633.5" y1="229.1" x2="637.5" y2="229.1" stroke="#000" stroke-width="0.9"/>
<text x="643" y="232.4" font-size="9.5" fill="#ff7f0e" stroke="#ff7f0e">300</text>
<text x="503.6" y="433.2" font-size="9.5" fill="#000" text-anchor="middle" stroke="#000">Catalysts</text>
<text x="0" y="0" transform="translate(341.4,316) rotate(-90)" font-size="9.5" fill="#1f77b4" text-anchor="middle" stroke="#1f77b4">Bulk BAS (µmol/g)</text>
<text x="0" y="0" transform="translate(671.7,316) rotate(-90)" font-size="9.5" fill="#ff7f0e" text-anchor="middle" stroke="#ff7f0e">External BAS (µmol/g)</text>
<text x="467.9" y="301.2" font-size="9.5" fill="#111" text-anchor="middle" stroke="#111">0.74 nm</text>
<line x1="458.5" y1="305.7" x2="475.2" y2="305.7" stroke="#000" stroke-width="0.9"/>
<path d="M456.5,305.7 l4.0,-2.2 l-0.9,2.2 l0.9,2.2 Z" fill="#000"/>
<path d="M477.2,305.7 l-4.0,-2.2 l0.9,2.2 l-0.9,2.2 Z" fill="#000"/>
<text x="526.6" y="301.2" font-size="9.5" fill="#111" text-anchor="middle" stroke="#111">0.54 nm</text>
<line x1="518.9" y1="305.7" x2="534.4" y2="305.7" stroke="#000" stroke-width="0.9"/>
<path d="M516.9,305.7 l4.0,-2.2 l-0.9,2.2 l0.9,2.2 Z" fill="#000"/>
<path d="M536.4,305.7 l-4.0,-2.2 l0.9,2.2 l-0.9,2.2 Z" fill="#000"/>
<text x="598.5" y="301.2" font-size="9.5" fill="#111" text-anchor="middle" stroke="#111">1.1 nm</text>
<line x1="569.3" y1="306" x2="626.7" y2="306" stroke="#000" stroke-width="0.9"/>
<path d="M567.3,306 l4.0,-2.2 l-0.9,2.2 l0.9,2.2 Z" fill="#000"/>
<path d="M628.7,306 l-4.0,-2.2 l0.9,2.2 l-0.9,2.2 Z" fill="#000"/>
<g fill="none" stroke="#3a8ac6" stroke-width="0.9"><polyline points="523.8,282.1 516.2,278.2 516.2,266.2 526.5,260.3 537.2,266.2 537.2,278.2 529.3,282.1"/><line x1="518.2" y1="267.6" x2="526.5" y2="262.8"/><line x1="535.0" y1="267.6" x2="535.0" y2="276.8"/><line x1="518.2" y1="276.2" x2="523.8" y2="279.3"/></g>
<text x="526.8" y="287" font-size="7.6" fill="#3a8ac6" text-anchor="middle" stroke="#3a8ac6">N</text>
<g fill="none" stroke="#ff9a4a" stroke-width="0.9"><polyline points="595.2,280.2 587.6,275.9 587.6,264 598,257.9 608.8,264 608.8,275.9 601.0,280.2"/><line x1="589.7" y1="265.4" x2="598" y2="260.5"/><line x1="606.6" y1="265.4" x2="606.6" y2="274.6"/><line x1="589.7" y1="274.3" x2="595.2" y2="277.4"/><line x1="598" y1="257.9" x2="598" y2="245.6"/><line x1="598" y1="245.6" x2="598" y2="234.1"/><line x1="598" y1="245.6" x2="587.3" y2="240"/><line x1="598" y1="245.6" x2="608.8" y2="240"/><line x1="587.6" y1="275.9" x2="577.2" y2="282"/><line x1="577.2" y1="282" x2="566.9" y2="275.9"/><line x1="577.2" y1="282" x2="566.9" y2="287.8"/><line x1="577.2" y1="282" x2="577.2" y2="294"/><line x1="608.8" y1="275.9" x2="619" y2="282"/><line x1="619" y1="282" x2="629" y2="275.9"/><line x1="619" y1="282" x2="629" y2="287.8"/><line x1="619" y1="282" x2="619" y2="294"/></g>
<text x="598.4" y="284" font-size="7.8" fill="#ff9a4a" text-anchor="middle" stroke="#ff9a4a">N</text>
<g fill="#fff" stroke="#000" stroke-width="1.3" stroke-linejoin="round"><g transform="rotate(23.99 472.78 244.9)"><rect x="469.78" y="240.5" width="6" height="8.8"/><line x1="469.78" y1="244.9" x2="475.78" y2="244.9"/></g><g transform="rotate(88.29 482.2 259.69)"><rect x="479.2" y="255.29" width="6" height="8.8"/><line x1="479.2" y1="259.69" x2="485.2" y2="259.69"/></g><g transform="rotate(146.78 474.96 275.18)"><rect x="471.96" y="270.78" width="6" height="8.8"/><line x1="471.96" y1="275.18" x2="477.96" y2="275.18"/></g><g transform="rotate(-159.21 457.6 276.39)"><rect x="454.6" y="271.99" width="6" height="8.8"/><line x1="454.6" y1="276.39" x2="460.6" y2="276.39"/></g><g transform="rotate(-90.83 447.46 261.71)"><rect x="444.46" y="257.31" width="6" height="8.8"/><line x1="444.46" y1="261.71" x2="450.46" y2="261.71"/></g><g transform="rotate(-31.29 455.41 245.71)"><rect x="452.41" y="241.31" width="6" height="8.8"/><line x1="452.41" y1="245.71" x2="458.41" y2="245.71"/></g><circle cx="464.0" cy="259.0" r="11.6"/><circle cx="464.0" cy="259.0" r="9.6" fill="none" stroke-width="1.1"/><polygon points="466.5,264.5 464,268.18 459,268.18 456.5,264.5 459,260.82 464,260.82" fill="none"/><polygon points="473.98,258.64 470,261.29 466.02,258.64 466.02,253.35 470,250.71 473.98,253.35" fill="none" stroke-width="1.1"/><polygon points="462,252 460.3,254.94 456.9,254.94 455.2,252 456.9,249.06 460.3,249.06" fill="none" stroke-width="1.1"/><polygon points="472.5,241.9 468.05,249.07 459.15,249.07 454.7,241.9 459.15,234.73 468.05,234.73"/><polygon points="468.6,241.9 466.1,245.71 461.1,245.71 458.6,241.9 461.1,238.09 466.1,238.09" fill="none"/><line x1="472.5" y1="241.9" x2="468.6" y2="241.9"/><line x1="468.05" y1="249.07" x2="466.1" y2="245.71"/><line x1="459.15" y1="249.07" x2="461.1" y2="245.71"/><line x1="454.7" y1="241.9" x2="458.6" y2="241.9"/><line x1="459.15" y1="234.73" x2="461.1" y2="238.09"/><line x1="468.05" y1="234.73" x2="466.1" y2="238.09"/><line x1="454.66" y1="240.3" x2="459.11" y2="233.13" stroke-width="1.0"/><line x1="459.11" y1="233.13" x2="468.01" y2="233.13" stroke-width="1.0"/><line x1="468.01" y1="233.13" x2="472.46" y2="240.3" stroke-width="1.0"/><polygon points="489.8,249.6 485.35,256.77 476.45,256.77 472,249.6 476.45,242.43 485.35,242.43"/><polygon points="485.9,249.6 483.4,253.41 478.4,253.41 475.9,249.6 478.4,245.79 483.4,245.79" fill="none"/><line x1="489.8" y1="249.6" x2="485.9" y2="249.6"/><line x1="485.35" y1="256.77" x2="483.4" y2="253.41"/><line x1="476.45" y1="256.77" x2="478.4" y2="253.41"/><line x1="472" y1="249.6" x2="475.9" y2="249.6"/><line x1="476.45" y1="242.43" x2="478.4" y2="245.79"/><line x1="485.35" y1="242.43" x2="483.4" y2="245.79"/><line x1="491.2" y1="248.82" x2="486.75" y2="255.99" stroke-width="1.0"/><line x1="477.85" y1="241.65" x2="486.75" y2="241.65" stroke-width="1.0"/><line x1="486.75" y1="241.65" x2="491.2" y2="248.82" stroke-width="1.0"/><polygon points="490.4,269.7 485.95,276.87 477.05,276.87 472.6,269.7 477.05,262.53 485.95,262.53"/><polygon points="486.5,269.7 484,273.51 479,273.51 476.5,269.7 479,265.89 484,265.89" fill="none"/><line x1="490.4" y1="269.7" x2="486.5" y2="269.7"/><line x1="485.95" y1="276.87" x2="484" y2="273.51"/><line x1="477.05" y1="276.87" x2="479" y2="273.51"/><line x1="472.6" y1="269.7" x2="476.5" y2="269.7"/><line x1="477.05" y1="262.53" x2="479" y2="265.89"/><line x1="485.95" y1="262.53" x2="484" y2="265.89"/><line x1="491.77" y1="270.53" x2="487.32" y2="277.7" stroke-width="1.0"/><line x1="487.32" y1="277.7" x2="478.42" y2="277.7" stroke-width="1.0"/><line x1="487.32" y1="263.37" x2="491.77" y2="270.53" stroke-width="1.0"/><polygon points="476.3,279.59 471.85,286.76 462.95,286.76 458.5,279.59 462.95,272.42 471.85,272.42"/><polygon points="472.3,279 469.8,282.81 464.8,282.81 462.3,279 464.8,275.19 469.8,275.19" fill="none"/><line x1="476.3" y1="279.59" x2="472.3" y2="279"/><line x1="471.85" y1="286.76" x2="469.8" y2="282.81"/><line x1="462.95" y1="286.76" x2="464.8" y2="282.81"/><line x1="458.5" y1="279.59" x2="462.3" y2="279"/><line x1="462.95" y1="272.42" x2="464.8" y2="275.19"/><line x1="471.85" y1="272.42" x2="469.8" y2="275.19"/><line x1="476.56" y1="281.17" x2="472.11" y2="288.34" stroke-width="1.0"/><line x1="472.11" y1="288.34" x2="463.21" y2="288.34" stroke-width="1.0"/><line x1="463.21" y1="288.34" x2="458.76" y2="281.17" stroke-width="1.0"/><polygon points="455.81,273.31 451.36,280.48 442.46,280.48 438.01,273.31 442.46,266.14 451.36,266.14"/><polygon points="453.6,271.9 451.1,275.71 446.1,275.71 443.6,271.9 446.1,268.09 451.1,268.09" fill="none"/><line x1="455.81" y1="273.31" x2="453.6" y2="271.9"/><line x1="451.36" y1="280.48" x2="451.1" y2="275.71"/><line x1="442.46" y1="280.48" x2="446.1" y2="275.71"/><line x1="438.01" y1="273.31" x2="443.6" y2="271.9"/><line x1="442.46" y1="266.14" x2="446.1" y2="268.09"/><line x1="451.36" y1="266.14" x2="451.1" y2="268.09"/><line x1="450.14" y1="281.51" x2="441.24" y2="281.51" stroke-width="1.0"/><line x1="441.24" y1="281.51" x2="436.79" y2="274.34" stroke-width="1.0"/><line x1="436.79" y1="274.34" x2="441.24" y2="267.17" stroke-width="1.0"/><polygon points="456.3,250.76 451.85,257.92 442.95,257.92 438.5,250.76 442.95,243.59 451.85,243.59"/><polygon points="453.3,251.2 450.8,255.01 445.8,255.01 443.3,251.2 445.8,247.39 450.8,247.39" fill="none"/><line x1="456.3" y1="250.76" x2="453.3" y2="251.2"/><line x1="451.85" y1="257.92" x2="450.8" y2="255.01"/><line x1="442.95" y1="257.92" x2="445.8" y2="255.01"/><line x1="438.5" y1="250.76" x2="443.3" y2="251.2"/><line x1="442.95" y1="243.59" x2="445.8" y2="247.39"/><line x1="451.85" y1="243.59" x2="450.8" y2="247.39"/><line x1="441.52" y1="257.21" x2="437.07" y2="250.04" stroke-width="1.0"/><line x1="437.07" y1="250.04" x2="441.52" y2="242.88" stroke-width="1.0"/><line x1="441.52" y1="242.88" x2="450.42" y2="242.88" stroke-width="1.0"/></g>
</svg></body></html>
